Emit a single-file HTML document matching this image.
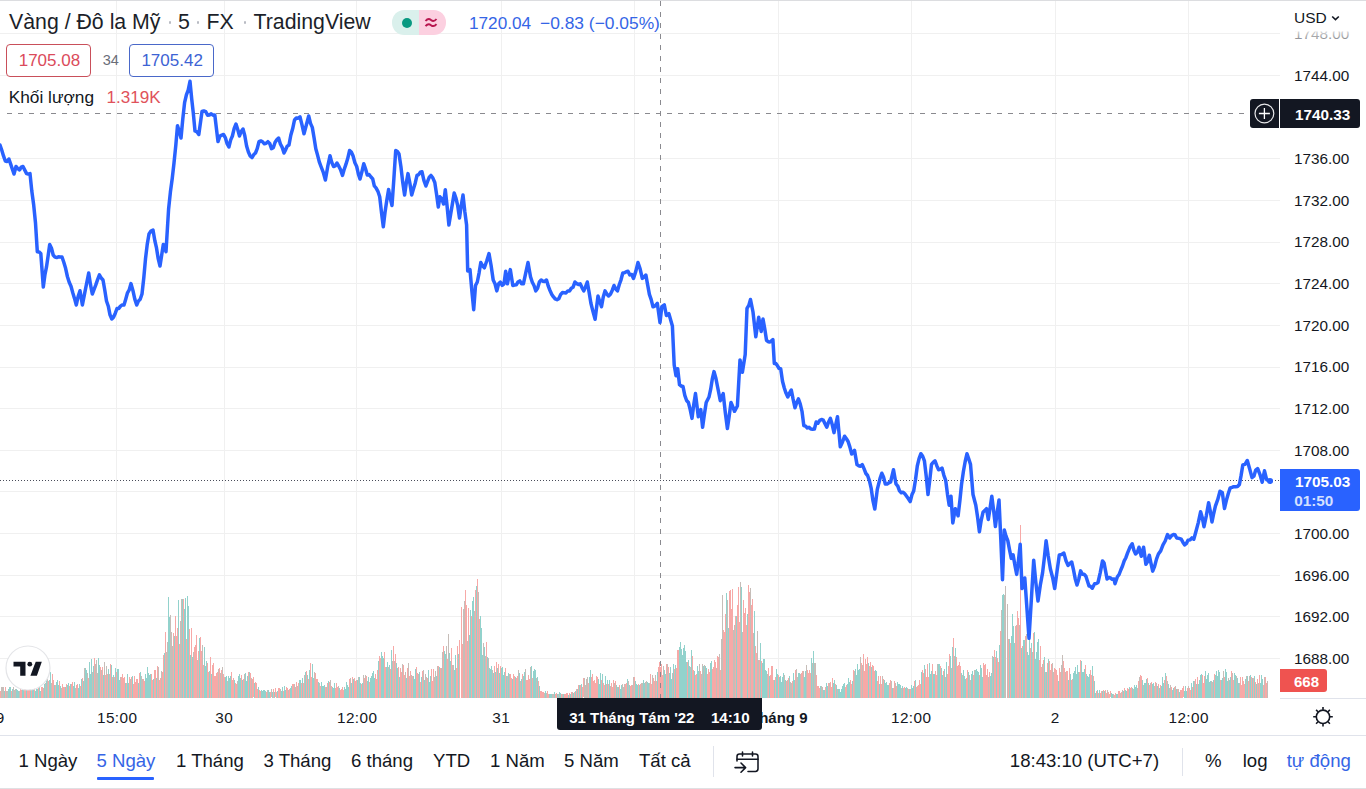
<!DOCTYPE html>
<html><head><meta charset="utf-8">
<style>
*{margin:0;padding:0;box-sizing:border-box}
html,body{width:1366px;height:789px;overflow:hidden;background:#fff;font-family:"Liberation Sans",sans-serif;color:#131722}
.a{position:absolute;white-space:nowrap}
svg{position:absolute;left:0;top:0}
.pl{position:absolute;left:1294px;font-size:15.3px;line-height:15.3px;color:#131722;white-space:nowrap}
.tl{position:absolute;top:710px;width:80px;text-align:center;font-size:15.3px;line-height:15.3px;color:#131722;letter-spacing:0.45px;text-indent:0.45px}
.tb{position:absolute;top:752.2px;font-size:18.6px;line-height:18.6px;color:#131722;white-space:nowrap}
.ttl{font-size:21.3px;line-height:21.3px;top:12.4px;color:#1c1f2a}
.dot{position:absolute;width:2.6px;height:2.6px;border-radius:50%;background:#b8bbc3;top:21.2px}
</style></head><body>
<svg width="1366" height="789" viewBox="0 0 1366 789">
<g stroke="#f0f0f0" stroke-width="1" shape-rendering="crispEdges">
<line x1="0" y1="33.5" x2="1280" y2="33.5"/>
<line x1="0" y1="75.5" x2="1280" y2="75.5"/>
<line x1="0" y1="158.5" x2="1280" y2="158.5"/>
<line x1="0" y1="200.5" x2="1280" y2="200.5"/>
<line x1="0" y1="242.5" x2="1280" y2="242.5"/>
<line x1="0" y1="283.5" x2="1280" y2="283.5"/>
<line x1="0" y1="325.5" x2="1280" y2="325.5"/>
<line x1="0" y1="367.5" x2="1280" y2="367.5"/>
<line x1="0" y1="408.5" x2="1280" y2="408.5"/>
<line x1="0" y1="450.5" x2="1280" y2="450.5"/>
<line x1="0" y1="491.5" x2="1280" y2="491.5"/>
<line x1="0" y1="533.5" x2="1280" y2="533.5"/>
<line x1="0" y1="575.5" x2="1280" y2="575.5"/>
<line x1="0" y1="616.5" x2="1280" y2="616.5"/>
<line x1="0" y1="658.5" x2="1280" y2="658.5"/>
<line x1="116.5" y1="0" x2="116.5" y2="698"/>
<line x1="224.5" y1="0" x2="224.5" y2="698"/>
<line x1="356.5" y1="0" x2="356.5" y2="698"/>
<line x1="501.5" y1="0" x2="501.5" y2="698"/>
<line x1="634.5" y1="0" x2="634.5" y2="698"/>
<line x1="778.5" y1="0" x2="778.5" y2="698"/>
<line x1="911.5" y1="0" x2="911.5" y2="698"/>
<line x1="1055.5" y1="0" x2="1055.5" y2="698"/>
<line x1="1188.5" y1="0" x2="1188.5" y2="698"/>
</g>
<g shape-rendering="crispEdges">
<rect x="0" y="691.0" width="1" height="6.5" fill="#f7a9a7"/>
<rect x="1" y="687.0" width="1" height="10.5" fill="#c6bdb8"/>
<rect x="2" y="687.0" width="1" height="10.5" fill="#c6bdb8"/>
<rect x="3" y="687.0" width="1" height="10.5" fill="#c6bdb8"/>
<rect x="4" y="691.3" width="1" height="6.2" fill="#92d2cc"/>
<rect x="5" y="687.0" width="1" height="10.5" fill="#f7a9a7"/>
<rect x="6" y="691.4" width="1" height="6.1" fill="#c6bdb8"/>
<rect x="7" y="690.7" width="1" height="6.8" fill="#c6bdb8"/>
<rect x="8" y="689.0" width="1" height="8.5" fill="#92d2cc"/>
<rect x="9" y="687.0" width="1" height="10.5" fill="#92d2cc"/>
<rect x="10" y="687.0" width="1" height="10.5" fill="#92d2cc"/>
<rect x="11" y="691.0" width="1" height="6.5" fill="#f7a9a7"/>
<rect x="12" y="689.1" width="1" height="8.4" fill="#92d2cc"/>
<rect x="13" y="687.0" width="1" height="10.5" fill="#c6bdb8"/>
<rect x="14" y="690.0" width="1" height="7.5" fill="#c6bdb8"/>
<rect x="15" y="689.1" width="1" height="8.4" fill="#c6bdb8"/>
<rect x="16" y="688.5" width="1" height="9.0" fill="#92d2cc"/>
<rect x="17" y="689.5" width="1" height="8.0" fill="#92d2cc"/>
<rect x="18" y="690.6" width="1" height="6.9" fill="#92d2cc"/>
<rect x="19" y="690.6" width="1" height="6.9" fill="#c6bdb8"/>
<rect x="20" y="689.4" width="1" height="8.1" fill="#f7a9a7"/>
<rect x="21" y="690.4" width="1" height="7.1" fill="#f7a9a7"/>
<rect x="22" y="687.0" width="1" height="10.5" fill="#92d2cc"/>
<rect x="23" y="690.1" width="1" height="7.4" fill="#92d2cc"/>
<rect x="24" y="687.2" width="1" height="10.3" fill="#f7a9a7"/>
<rect x="25" y="689.0" width="1" height="8.5" fill="#f7a9a7"/>
<rect x="26" y="690.1" width="1" height="7.4" fill="#92d2cc"/>
<rect x="27" y="689.6" width="1" height="7.9" fill="#f7a9a7"/>
<rect x="28" y="689.5" width="1" height="8.0" fill="#f7a9a7"/>
<rect x="29" y="687.0" width="1" height="10.5" fill="#f7a9a7"/>
<rect x="30" y="687.0" width="1" height="10.5" fill="#92d2cc"/>
<rect x="31" y="689.9" width="1" height="7.6" fill="#f7a9a7"/>
<rect x="32" y="687.0" width="1" height="10.5" fill="#92d2cc"/>
<rect x="33" y="688.8" width="1" height="8.7" fill="#92d2cc"/>
<rect x="34" y="687.0" width="1" height="10.5" fill="#f7a9a7"/>
<rect x="35" y="690.6" width="1" height="6.9" fill="#92d2cc"/>
<rect x="36" y="689.4" width="1" height="8.1" fill="#92d2cc"/>
<rect x="37" y="689.1" width="1" height="8.4" fill="#92d2cc"/>
<rect x="38" y="687.6" width="1" height="9.9" fill="#f7a9a7"/>
<rect x="39" y="687.1" width="1" height="10.4" fill="#92d2cc"/>
<rect x="40" y="691.0" width="1" height="6.5" fill="#92d2cc"/>
<rect x="41" y="687.3" width="1" height="10.2" fill="#f7a9a7"/>
<rect x="42" y="686.5" width="1" height="11.0" fill="#f7a9a7"/>
<rect x="43" y="688.3" width="1" height="9.2" fill="#c6bdb8"/>
<rect x="44" y="684.2" width="1" height="13.3" fill="#92d2cc"/>
<rect x="45" y="683.4" width="1" height="14.1" fill="#c6bdb8"/>
<rect x="46" y="680.3" width="1" height="17.2" fill="#92d2cc"/>
<rect x="47" y="678.6" width="1" height="18.9" fill="#c6bdb8"/>
<rect x="48" y="681.1" width="1" height="16.4" fill="#f7a9a7"/>
<rect x="49" y="680.0" width="1" height="17.5" fill="#92d2cc"/>
<rect x="50" y="672.0" width="1" height="25.5" fill="#92d2cc"/>
<rect x="51" y="682.8" width="1" height="14.7" fill="#c6bdb8"/>
<rect x="52" y="674.0" width="1" height="23.5" fill="#f7a9a7"/>
<rect x="53" y="679.7" width="1" height="17.8" fill="#f7a9a7"/>
<rect x="54" y="685.0" width="1" height="12.5" fill="#92d2cc"/>
<rect x="55" y="684.9" width="1" height="12.6" fill="#f7a9a7"/>
<rect x="56" y="681.5" width="1" height="16.0" fill="#92d2cc"/>
<rect x="57" y="680.3" width="1" height="17.2" fill="#92d2cc"/>
<rect x="58" y="685.4" width="1" height="12.1" fill="#92d2cc"/>
<rect x="59" y="681.0" width="1" height="16.5" fill="#f7a9a7"/>
<rect x="60" y="685.6" width="1" height="11.9" fill="#92d2cc"/>
<rect x="61" y="687.5" width="1" height="10.0" fill="#c6bdb8"/>
<rect x="62" y="684.2" width="1" height="13.3" fill="#f7a9a7"/>
<rect x="63" y="686.9" width="1" height="10.6" fill="#f7a9a7"/>
<rect x="64" y="687.2" width="1" height="10.3" fill="#f7a9a7"/>
<rect x="65" y="686.5" width="1" height="11.0" fill="#92d2cc"/>
<rect x="66" y="683.5" width="1" height="14.0" fill="#f7a9a7"/>
<rect x="67" y="684.7" width="1" height="12.8" fill="#92d2cc"/>
<rect x="68" y="683.3" width="1" height="14.2" fill="#92d2cc"/>
<rect x="69" y="685.5" width="1" height="12.0" fill="#f7a9a7"/>
<rect x="70" y="683.5" width="1" height="14.0" fill="#92d2cc"/>
<rect x="71" y="684.1" width="1" height="13.4" fill="#f7a9a7"/>
<rect x="72" y="682.4" width="1" height="15.1" fill="#f7a9a7"/>
<rect x="73" y="686.4" width="1" height="11.1" fill="#92d2cc"/>
<rect x="74" y="682.0" width="1" height="15.5" fill="#92d2cc"/>
<rect x="75" y="687.5" width="1" height="10.0" fill="#c6bdb8"/>
<rect x="76" y="684.7" width="1" height="12.8" fill="#f7a9a7"/>
<rect x="77" y="684.4" width="1" height="13.1" fill="#f7a9a7"/>
<rect x="78" y="688.1" width="1" height="9.4" fill="#92d2cc"/>
<rect x="79" y="683.7" width="1" height="13.8" fill="#92d2cc"/>
<rect x="80" y="685.9" width="1" height="11.6" fill="#f7a9a7"/>
<rect x="81" y="678.5" width="1" height="19.0" fill="#92d2cc"/>
<rect x="82" y="677.6" width="1" height="19.9" fill="#f7a9a7"/>
<rect x="83" y="681.2" width="1" height="16.3" fill="#92d2cc"/>
<rect x="84" y="668.1" width="1" height="29.4" fill="#c6bdb8"/>
<rect x="85" y="667.5" width="1" height="30.0" fill="#92d2cc"/>
<rect x="86" y="669.8" width="1" height="27.7" fill="#92d2cc"/>
<rect x="87" y="672.9" width="1" height="24.6" fill="#c6bdb8"/>
<rect x="88" y="677.5" width="1" height="20.0" fill="#f7a9a7"/>
<rect x="89" y="661.9" width="1" height="35.6" fill="#92d2cc"/>
<rect x="90" y="673.5" width="1" height="24.0" fill="#92d2cc"/>
<rect x="91" y="658.9" width="1" height="38.6" fill="#92d2cc"/>
<rect x="92" y="671.5" width="1" height="26.0" fill="#c6bdb8"/>
<rect x="93" y="666.1" width="1" height="31.4" fill="#92d2cc"/>
<rect x="94" y="658.0" width="1" height="39.5" fill="#f7a9a7"/>
<rect x="95" y="664.0" width="1" height="33.5" fill="#c6bdb8"/>
<rect x="96" y="659.5" width="1" height="38.0" fill="#c6bdb8"/>
<rect x="97" y="673.1" width="1" height="24.4" fill="#c6bdb8"/>
<rect x="98" y="658.0" width="1" height="39.5" fill="#92d2cc"/>
<rect x="99" y="665.0" width="1" height="32.5" fill="#92d2cc"/>
<rect x="100" y="667.4" width="1" height="30.1" fill="#f7a9a7"/>
<rect x="101" y="670.0" width="1" height="27.5" fill="#c6bdb8"/>
<rect x="102" y="667.2" width="1" height="30.3" fill="#f7a9a7"/>
<rect x="103" y="674.8" width="1" height="22.7" fill="#92d2cc"/>
<rect x="104" y="662.0" width="1" height="35.5" fill="#c6bdb8"/>
<rect x="105" y="675.3" width="1" height="22.2" fill="#f7a9a7"/>
<rect x="106" y="665.7" width="1" height="31.8" fill="#c6bdb8"/>
<rect x="107" y="673.5" width="1" height="24.0" fill="#f7a9a7"/>
<rect x="108" y="668.7" width="1" height="28.8" fill="#92d2cc"/>
<rect x="109" y="674.0" width="1" height="23.5" fill="#c6bdb8"/>
<rect x="110" y="663.9" width="1" height="33.6" fill="#f7a9a7"/>
<rect x="111" y="665.3" width="1" height="32.2" fill="#92d2cc"/>
<rect x="112" y="677.2" width="1" height="20.3" fill="#f7a9a7"/>
<rect x="113" y="675.0" width="1" height="22.5" fill="#92d2cc"/>
<rect x="114" y="676.9" width="1" height="20.6" fill="#f7a9a7"/>
<rect x="115" y="667.7" width="1" height="29.8" fill="#92d2cc"/>
<rect x="116" y="671.8" width="1" height="25.7" fill="#f7a9a7"/>
<rect x="117" y="669.1" width="1" height="28.4" fill="#92d2cc"/>
<rect x="118" y="668.8" width="1" height="28.7" fill="#92d2cc"/>
<rect x="119" y="679.6" width="1" height="17.9" fill="#92d2cc"/>
<rect x="120" y="676.7" width="1" height="20.8" fill="#c6bdb8"/>
<rect x="121" y="677.2" width="1" height="20.3" fill="#f7a9a7"/>
<rect x="122" y="673.9" width="1" height="23.6" fill="#f7a9a7"/>
<rect x="123" y="677.5" width="1" height="20.0" fill="#f7a9a7"/>
<rect x="124" y="677.1" width="1" height="20.4" fill="#f7a9a7"/>
<rect x="125" y="682.7" width="1" height="14.8" fill="#92d2cc"/>
<rect x="126" y="682.6" width="1" height="14.9" fill="#f7a9a7"/>
<rect x="127" y="674.0" width="1" height="23.5" fill="#92d2cc"/>
<rect x="128" y="682.9" width="1" height="14.6" fill="#92d2cc"/>
<rect x="129" y="677.4" width="1" height="20.1" fill="#f7a9a7"/>
<rect x="130" y="679.3" width="1" height="18.2" fill="#c6bdb8"/>
<rect x="131" y="677.4" width="1" height="20.1" fill="#f7a9a7"/>
<rect x="132" y="676.1" width="1" height="21.4" fill="#92d2cc"/>
<rect x="133" y="683.7" width="1" height="13.8" fill="#f7a9a7"/>
<rect x="134" y="675.6" width="1" height="21.9" fill="#f7a9a7"/>
<rect x="135" y="681.7" width="1" height="15.8" fill="#f7a9a7"/>
<rect x="136" y="679.0" width="1" height="18.5" fill="#f7a9a7"/>
<rect x="137" y="679.2" width="1" height="18.3" fill="#f7a9a7"/>
<rect x="138" y="683.3" width="1" height="14.2" fill="#92d2cc"/>
<rect x="139" y="672.6" width="1" height="24.9" fill="#f7a9a7"/>
<rect x="140" y="672.0" width="1" height="25.5" fill="#92d2cc"/>
<rect x="141" y="675.6" width="1" height="21.9" fill="#c6bdb8"/>
<rect x="142" y="679.1" width="1" height="18.4" fill="#c6bdb8"/>
<rect x="143" y="678.9" width="1" height="18.6" fill="#f7a9a7"/>
<rect x="144" y="681.4" width="1" height="16.1" fill="#f7a9a7"/>
<rect x="145" y="674.2" width="1" height="23.3" fill="#92d2cc"/>
<rect x="146" y="677.7" width="1" height="19.8" fill="#92d2cc"/>
<rect x="147" y="666.8" width="1" height="30.7" fill="#92d2cc"/>
<rect x="148" y="672.5" width="1" height="25.0" fill="#92d2cc"/>
<rect x="149" y="675.4" width="1" height="22.1" fill="#92d2cc"/>
<rect x="150" y="674.3" width="1" height="23.2" fill="#92d2cc"/>
<rect x="151" y="674.4" width="1" height="23.1" fill="#f7a9a7"/>
<rect x="152" y="679.5" width="1" height="18.0" fill="#f7a9a7"/>
<rect x="153" y="679.0" width="1" height="18.5" fill="#92d2cc"/>
<rect x="154" y="670.3" width="1" height="27.2" fill="#f7a9a7"/>
<rect x="155" y="670.2" width="1" height="27.3" fill="#f7a9a7"/>
<rect x="156" y="678.0" width="1" height="19.5" fill="#92d2cc"/>
<rect x="157" y="666.3" width="1" height="31.2" fill="#f7a9a7"/>
<rect x="158" y="666.9" width="1" height="30.6" fill="#c6bdb8"/>
<rect x="159" y="680.1" width="1" height="17.4" fill="#f7a9a7"/>
<rect x="160" y="678.2" width="1" height="19.3" fill="#f7a9a7"/>
<rect x="161" y="671.1" width="1" height="26.4" fill="#c6bdb8"/>
<rect x="162" y="671.8" width="1" height="25.7" fill="#f7a9a7"/>
<rect x="163" y="654.6" width="1" height="42.9" fill="#f7a9a7"/>
<rect x="164" y="653.2" width="1" height="44.3" fill="#92d2cc"/>
<rect x="165" y="631.6" width="1" height="65.9" fill="#f7a9a7"/>
<rect x="166" y="652.0" width="1" height="45.5" fill="#c6bdb8"/>
<rect x="167" y="642.3" width="1" height="55.2" fill="#c6bdb8"/>
<rect x="168" y="597.0" width="1" height="100.5" fill="#92d2cc"/>
<rect x="169" y="617.1" width="1" height="80.4" fill="#92d2cc"/>
<rect x="170" y="614.5" width="1" height="83.0" fill="#c6bdb8"/>
<rect x="171" y="632.1" width="1" height="65.4" fill="#c6bdb8"/>
<rect x="172" y="646.0" width="1" height="51.5" fill="#c6bdb8"/>
<rect x="173" y="632.6" width="1" height="64.9" fill="#f7a9a7"/>
<rect x="174" y="635.6" width="1" height="61.9" fill="#92d2cc"/>
<rect x="175" y="616.0" width="1" height="81.5" fill="#f7a9a7"/>
<rect x="176" y="635.6" width="1" height="61.9" fill="#f7a9a7"/>
<rect x="177" y="628.1" width="1" height="69.4" fill="#f7a9a7"/>
<rect x="178" y="600.0" width="1" height="97.5" fill="#92d2cc"/>
<rect x="179" y="643.6" width="1" height="53.9" fill="#f7a9a7"/>
<rect x="180" y="621.4" width="1" height="76.1" fill="#c6bdb8"/>
<rect x="181" y="599.2" width="1" height="98.3" fill="#c6bdb8"/>
<rect x="182" y="598.9" width="1" height="98.6" fill="#92d2cc"/>
<rect x="183" y="598.6" width="1" height="98.9" fill="#f7a9a7"/>
<rect x="184" y="608.9" width="1" height="88.6" fill="#92d2cc"/>
<rect x="185" y="598.4" width="1" height="99.1" fill="#92d2cc"/>
<rect x="186" y="638.5" width="1" height="59.0" fill="#f7a9a7"/>
<rect x="187" y="596.0" width="1" height="101.5" fill="#92d2cc"/>
<rect x="188" y="606.3" width="1" height="91.2" fill="#92d2cc"/>
<rect x="189" y="629.3" width="1" height="68.2" fill="#f7a9a7"/>
<rect x="190" y="654.5" width="1" height="43.0" fill="#92d2cc"/>
<rect x="191" y="628.0" width="1" height="69.5" fill="#f7a9a7"/>
<rect x="192" y="656.8" width="1" height="40.7" fill="#92d2cc"/>
<rect x="193" y="651.5" width="1" height="46.0" fill="#c6bdb8"/>
<rect x="194" y="647.0" width="1" height="50.5" fill="#f7a9a7"/>
<rect x="195" y="645.3" width="1" height="52.2" fill="#f7a9a7"/>
<rect x="196" y="634.9" width="1" height="62.6" fill="#f7a9a7"/>
<rect x="197" y="660.4" width="1" height="37.1" fill="#c6bdb8"/>
<rect x="198" y="650.5" width="1" height="47.0" fill="#f7a9a7"/>
<rect x="199" y="638.3" width="1" height="59.2" fill="#92d2cc"/>
<rect x="200" y="637.0" width="1" height="60.5" fill="#f7a9a7"/>
<rect x="201" y="651.4" width="1" height="46.1" fill="#f7a9a7"/>
<rect x="202" y="645.3" width="1" height="52.2" fill="#c6bdb8"/>
<rect x="203" y="664.5" width="1" height="33.0" fill="#f7a9a7"/>
<rect x="204" y="646.9" width="1" height="50.6" fill="#92d2cc"/>
<rect x="205" y="665.7" width="1" height="31.8" fill="#92d2cc"/>
<rect x="206" y="661.4" width="1" height="36.1" fill="#92d2cc"/>
<rect x="207" y="663.4" width="1" height="34.1" fill="#f7a9a7"/>
<rect x="208" y="672.4" width="1" height="25.1" fill="#f7a9a7"/>
<rect x="209" y="670.9" width="1" height="26.6" fill="#92d2cc"/>
<rect x="210" y="656.7" width="1" height="40.8" fill="#f7a9a7"/>
<rect x="211" y="673.6" width="1" height="23.9" fill="#92d2cc"/>
<rect x="212" y="665.1" width="1" height="32.4" fill="#f7a9a7"/>
<rect x="213" y="663.4" width="1" height="34.1" fill="#f7a9a7"/>
<rect x="214" y="676.3" width="1" height="21.2" fill="#f7a9a7"/>
<rect x="215" y="675.6" width="1" height="21.9" fill="#f7a9a7"/>
<rect x="216" y="673.3" width="1" height="24.2" fill="#f7a9a7"/>
<rect x="217" y="671.9" width="1" height="25.6" fill="#f7a9a7"/>
<rect x="218" y="669.1" width="1" height="28.4" fill="#c6bdb8"/>
<rect x="219" y="668.2" width="1" height="29.3" fill="#f7a9a7"/>
<rect x="220" y="673.2" width="1" height="24.3" fill="#c6bdb8"/>
<rect x="221" y="670.2" width="1" height="27.3" fill="#f7a9a7"/>
<rect x="222" y="666.8" width="1" height="30.7" fill="#c6bdb8"/>
<rect x="223" y="673.5" width="1" height="24.0" fill="#f7a9a7"/>
<rect x="224" y="676.9" width="1" height="20.6" fill="#f7a9a7"/>
<rect x="225" y="677.4" width="1" height="20.1" fill="#92d2cc"/>
<rect x="226" y="675.9" width="1" height="21.6" fill="#92d2cc"/>
<rect x="227" y="680.6" width="1" height="16.9" fill="#c6bdb8"/>
<rect x="228" y="675.6" width="1" height="21.9" fill="#92d2cc"/>
<rect x="229" y="678.3" width="1" height="19.2" fill="#92d2cc"/>
<rect x="230" y="676.2" width="1" height="21.3" fill="#92d2cc"/>
<rect x="231" y="671.5" width="1" height="26.0" fill="#f7a9a7"/>
<rect x="232" y="680.0" width="1" height="17.5" fill="#f7a9a7"/>
<rect x="233" y="677.7" width="1" height="19.8" fill="#f7a9a7"/>
<rect x="234" y="680.0" width="1" height="17.5" fill="#92d2cc"/>
<rect x="235" y="682.7" width="1" height="14.8" fill="#f7a9a7"/>
<rect x="236" y="684.1" width="1" height="13.4" fill="#f7a9a7"/>
<rect x="237" y="680.9" width="1" height="16.6" fill="#c6bdb8"/>
<rect x="238" y="676.2" width="1" height="21.3" fill="#92d2cc"/>
<rect x="239" y="673.8" width="1" height="23.7" fill="#92d2cc"/>
<rect x="240" y="677.5" width="1" height="20.0" fill="#92d2cc"/>
<rect x="241" y="675.1" width="1" height="22.4" fill="#f7a9a7"/>
<rect x="242" y="679.6" width="1" height="17.9" fill="#92d2cc"/>
<rect x="243" y="678.8" width="1" height="18.7" fill="#f7a9a7"/>
<rect x="244" y="673.8" width="1" height="23.7" fill="#c6bdb8"/>
<rect x="245" y="673.1" width="1" height="24.4" fill="#92d2cc"/>
<rect x="246" y="681.3" width="1" height="16.2" fill="#92d2cc"/>
<rect x="247" y="676.1" width="1" height="21.4" fill="#92d2cc"/>
<rect x="248" y="672.3" width="1" height="25.2" fill="#f7a9a7"/>
<rect x="249" y="672.2" width="1" height="25.3" fill="#92d2cc"/>
<rect x="250" y="672.9" width="1" height="24.6" fill="#f7a9a7"/>
<rect x="251" y="677.7" width="1" height="19.8" fill="#c6bdb8"/>
<rect x="252" y="678.5" width="1" height="19.0" fill="#f7a9a7"/>
<rect x="253" y="677.2" width="1" height="20.2" fill="#f7a9a7"/>
<rect x="254" y="682.5" width="1" height="15.0" fill="#92d2cc"/>
<rect x="255" y="682.3" width="1" height="15.2" fill="#f7a9a7"/>
<rect x="256" y="682.5" width="1" height="15.0" fill="#f7a9a7"/>
<rect x="257" y="688.6" width="1" height="8.9" fill="#f7a9a7"/>
<rect x="258" y="686.6" width="1" height="10.9" fill="#92d2cc"/>
<rect x="259" y="689.7" width="1" height="7.8" fill="#f7a9a7"/>
<rect x="260" y="690.6" width="1" height="6.9" fill="#f7a9a7"/>
<rect x="261" y="689.5" width="1" height="8.0" fill="#92d2cc"/>
<rect x="262" y="690.7" width="1" height="6.8" fill="#92d2cc"/>
<rect x="263" y="689.5" width="1" height="8.0" fill="#92d2cc"/>
<rect x="264" y="689.8" width="1" height="7.7" fill="#92d2cc"/>
<rect x="265" y="690.6" width="1" height="6.9" fill="#92d2cc"/>
<rect x="266" y="691.7" width="1" height="5.8" fill="#f7a9a7"/>
<rect x="267" y="690.4" width="1" height="7.1" fill="#c6bdb8"/>
<rect x="268" y="689.5" width="1" height="8.0" fill="#92d2cc"/>
<rect x="269" y="692.0" width="1" height="5.5" fill="#92d2cc"/>
<rect x="270" y="692.3" width="1" height="5.2" fill="#f7a9a7"/>
<rect x="271" y="689.2" width="1" height="8.2" fill="#c6bdb8"/>
<rect x="272" y="692.1" width="1" height="5.4" fill="#92d2cc"/>
<rect x="273" y="689.1" width="1" height="8.4" fill="#f7a9a7"/>
<rect x="274" y="692.0" width="1" height="5.5" fill="#92d2cc"/>
<rect x="275" y="688.2" width="1" height="9.2" fill="#f7a9a7"/>
<rect x="276" y="691.7" width="1" height="5.8" fill="#f7a9a7"/>
<rect x="277" y="691.3" width="1" height="6.2" fill="#92d2cc"/>
<rect x="278" y="688.0" width="1" height="9.5" fill="#f7a9a7"/>
<rect x="279" y="687.6" width="1" height="9.9" fill="#f7a9a7"/>
<rect x="280" y="688.6" width="1" height="8.9" fill="#c6bdb8"/>
<rect x="281" y="691.4" width="1" height="6.1" fill="#92d2cc"/>
<rect x="282" y="686.6" width="1" height="10.9" fill="#92d2cc"/>
<rect x="283" y="691.3" width="1" height="6.2" fill="#f7a9a7"/>
<rect x="284" y="686.0" width="1" height="11.5" fill="#92d2cc"/>
<rect x="285" y="690.4" width="1" height="7.1" fill="#92d2cc"/>
<rect x="286" y="686.7" width="1" height="10.8" fill="#f7a9a7"/>
<rect x="287" y="688.4" width="1" height="9.1" fill="#f7a9a7"/>
<rect x="288" y="689.5" width="1" height="8.0" fill="#c6bdb8"/>
<rect x="289" y="689.4" width="1" height="8.1" fill="#f7a9a7"/>
<rect x="290" y="687.6" width="1" height="9.9" fill="#92d2cc"/>
<rect x="291" y="686.3" width="1" height="11.2" fill="#92d2cc"/>
<rect x="292" y="683.5" width="1" height="14.0" fill="#f7a9a7"/>
<rect x="293" y="684.3" width="1" height="13.2" fill="#f7a9a7"/>
<rect x="294" y="684.2" width="1" height="13.3" fill="#c6bdb8"/>
<rect x="295" y="687.1" width="1" height="10.4" fill="#c6bdb8"/>
<rect x="296" y="681.5" width="1" height="16.0" fill="#f7a9a7"/>
<rect x="297" y="686.2" width="1" height="11.3" fill="#c6bdb8"/>
<rect x="298" y="683.3" width="1" height="14.2" fill="#f7a9a7"/>
<rect x="299" y="680.0" width="1" height="17.5" fill="#92d2cc"/>
<rect x="300" y="679.5" width="1" height="18.0" fill="#92d2cc"/>
<rect x="301" y="683.1" width="1" height="14.4" fill="#f7a9a7"/>
<rect x="302" y="677.6" width="1" height="19.9" fill="#92d2cc"/>
<rect x="303" y="682.6" width="1" height="14.9" fill="#f7a9a7"/>
<rect x="304" y="674.7" width="1" height="22.8" fill="#c6bdb8"/>
<rect x="305" y="672.0" width="1" height="25.5" fill="#92d2cc"/>
<rect x="306" y="671.3" width="1" height="26.2" fill="#f7a9a7"/>
<rect x="307" y="675.0" width="1" height="22.5" fill="#92d2cc"/>
<rect x="308" y="678.5" width="1" height="19.0" fill="#f7a9a7"/>
<rect x="309" y="670.0" width="1" height="27.5" fill="#92d2cc"/>
<rect x="310" y="662.9" width="1" height="34.6" fill="#f7a9a7"/>
<rect x="311" y="677.0" width="1" height="20.5" fill="#f7a9a7"/>
<rect x="312" y="664.4" width="1" height="33.1" fill="#92d2cc"/>
<rect x="313" y="678.2" width="1" height="19.3" fill="#92d2cc"/>
<rect x="314" y="671.8" width="1" height="25.7" fill="#c6bdb8"/>
<rect x="315" y="673.3" width="1" height="24.2" fill="#f7a9a7"/>
<rect x="316" y="679.1" width="1" height="18.4" fill="#f7a9a7"/>
<rect x="317" y="679.3" width="1" height="18.2" fill="#f7a9a7"/>
<rect x="318" y="681.8" width="1" height="15.7" fill="#92d2cc"/>
<rect x="319" y="682.5" width="1" height="15.0" fill="#c6bdb8"/>
<rect x="320" y="685.6" width="1" height="11.9" fill="#f7a9a7"/>
<rect x="321" y="681.8" width="1" height="15.7" fill="#92d2cc"/>
<rect x="322" y="685.7" width="1" height="11.8" fill="#92d2cc"/>
<rect x="323" y="685.9" width="1" height="11.6" fill="#92d2cc"/>
<rect x="324" y="685.0" width="1" height="12.5" fill="#92d2cc"/>
<rect x="325" y="686.8" width="1" height="10.7" fill="#f7a9a7"/>
<rect x="326" y="686.9" width="1" height="10.6" fill="#c6bdb8"/>
<rect x="327" y="682.7" width="1" height="14.8" fill="#f7a9a7"/>
<rect x="328" y="680.7" width="1" height="16.8" fill="#92d2cc"/>
<rect x="329" y="681.8" width="1" height="15.7" fill="#f7a9a7"/>
<rect x="330" y="680.3" width="1" height="17.2" fill="#c6bdb8"/>
<rect x="331" y="685.6" width="1" height="11.9" fill="#f7a9a7"/>
<rect x="332" y="687.4" width="1" height="10.1" fill="#92d2cc"/>
<rect x="333" y="688.3" width="1" height="9.2" fill="#92d2cc"/>
<rect x="334" y="683.0" width="1" height="14.5" fill="#92d2cc"/>
<rect x="335" y="687.7" width="1" height="9.8" fill="#f7a9a7"/>
<rect x="336" y="683.0" width="1" height="14.5" fill="#f7a9a7"/>
<rect x="337" y="686.7" width="1" height="10.8" fill="#f7a9a7"/>
<rect x="338" y="686.1" width="1" height="11.4" fill="#c6bdb8"/>
<rect x="339" y="688.4" width="1" height="9.1" fill="#92d2cc"/>
<rect x="340" y="690.4" width="1" height="7.1" fill="#f7a9a7"/>
<rect x="341" y="689.0" width="1" height="8.5" fill="#f7a9a7"/>
<rect x="342" y="687.4" width="1" height="10.1" fill="#f7a9a7"/>
<rect x="343" y="690.0" width="1" height="7.5" fill="#f7a9a7"/>
<rect x="344" y="687.0" width="1" height="10.5" fill="#92d2cc"/>
<rect x="345" y="688.9" width="1" height="8.6" fill="#92d2cc"/>
<rect x="346" y="682.3" width="1" height="15.2" fill="#92d2cc"/>
<rect x="347" y="685.0" width="1" height="12.5" fill="#92d2cc"/>
<rect x="348" y="686.9" width="1" height="10.6" fill="#92d2cc"/>
<rect x="349" y="678.8" width="1" height="18.7" fill="#f7a9a7"/>
<rect x="350" y="677.7" width="1" height="19.8" fill="#c6bdb8"/>
<rect x="351" y="682.9" width="1" height="14.6" fill="#92d2cc"/>
<rect x="352" y="677.4" width="1" height="20.1" fill="#f7a9a7"/>
<rect x="353" y="678.8" width="1" height="18.7" fill="#92d2cc"/>
<rect x="354" y="677.9" width="1" height="19.6" fill="#f7a9a7"/>
<rect x="355" y="681.1" width="1" height="16.4" fill="#f7a9a7"/>
<rect x="356" y="679.5" width="1" height="18.0" fill="#f7a9a7"/>
<rect x="357" y="679.5" width="1" height="18.0" fill="#92d2cc"/>
<rect x="358" y="677.1" width="1" height="20.4" fill="#c6bdb8"/>
<rect x="359" y="677.0" width="1" height="20.5" fill="#92d2cc"/>
<rect x="360" y="683.1" width="1" height="14.4" fill="#92d2cc"/>
<rect x="361" y="683.6" width="1" height="13.9" fill="#f7a9a7"/>
<rect x="362" y="682.6" width="1" height="14.9" fill="#92d2cc"/>
<rect x="363" y="674.8" width="1" height="22.7" fill="#c6bdb8"/>
<rect x="364" y="678.0" width="1" height="19.5" fill="#f7a9a7"/>
<rect x="365" y="674.5" width="1" height="23.0" fill="#c6bdb8"/>
<rect x="366" y="675.6" width="1" height="21.9" fill="#f7a9a7"/>
<rect x="367" y="681.0" width="1" height="16.5" fill="#92d2cc"/>
<rect x="368" y="676.8" width="1" height="20.7" fill="#92d2cc"/>
<rect x="369" y="681.7" width="1" height="15.8" fill="#f7a9a7"/>
<rect x="370" y="677.9" width="1" height="19.6" fill="#92d2cc"/>
<rect x="371" y="676.0" width="1" height="21.5" fill="#92d2cc"/>
<rect x="372" y="673.3" width="1" height="24.2" fill="#92d2cc"/>
<rect x="373" y="670.5" width="1" height="27.0" fill="#92d2cc"/>
<rect x="374" y="677.9" width="1" height="19.6" fill="#92d2cc"/>
<rect x="375" y="673.8" width="1" height="23.7" fill="#f7a9a7"/>
<rect x="376" y="679.0" width="1" height="18.5" fill="#f7a9a7"/>
<rect x="377" y="670.2" width="1" height="27.3" fill="#f7a9a7"/>
<rect x="378" y="660.8" width="1" height="36.7" fill="#92d2cc"/>
<rect x="379" y="655.5" width="1" height="42.0" fill="#f7a9a7"/>
<rect x="380" y="657.5" width="1" height="40.0" fill="#f7a9a7"/>
<rect x="381" y="652.4" width="1" height="45.1" fill="#92d2cc"/>
<rect x="382" y="655.9" width="1" height="41.6" fill="#92d2cc"/>
<rect x="383" y="657.7" width="1" height="39.8" fill="#92d2cc"/>
<rect x="384" y="652.0" width="1" height="45.5" fill="#f7a9a7"/>
<rect x="385" y="667.3" width="1" height="30.2" fill="#f7a9a7"/>
<rect x="386" y="666.8" width="1" height="30.7" fill="#92d2cc"/>
<rect x="387" y="662.2" width="1" height="35.3" fill="#92d2cc"/>
<rect x="388" y="667.1" width="1" height="30.4" fill="#c6bdb8"/>
<rect x="389" y="664.9" width="1" height="32.6" fill="#92d2cc"/>
<rect x="390" y="669.2" width="1" height="28.3" fill="#f7a9a7"/>
<rect x="391" y="650.0" width="1" height="47.5" fill="#92d2cc"/>
<rect x="392" y="661.3" width="1" height="36.2" fill="#c6bdb8"/>
<rect x="393" y="646.0" width="1" height="51.5" fill="#f7a9a7"/>
<rect x="394" y="660.7" width="1" height="36.8" fill="#c6bdb8"/>
<rect x="395" y="653.8" width="1" height="43.7" fill="#f7a9a7"/>
<rect x="396" y="663.1" width="1" height="34.4" fill="#92d2cc"/>
<rect x="397" y="668.2" width="1" height="29.3" fill="#92d2cc"/>
<rect x="398" y="666.6" width="1" height="30.9" fill="#f7a9a7"/>
<rect x="399" y="676.6" width="1" height="20.9" fill="#92d2cc"/>
<rect x="400" y="668.4" width="1" height="29.1" fill="#f7a9a7"/>
<rect x="401" y="671.6" width="1" height="25.9" fill="#f7a9a7"/>
<rect x="402" y="664.3" width="1" height="33.2" fill="#c6bdb8"/>
<rect x="403" y="665.4" width="1" height="32.1" fill="#f7a9a7"/>
<rect x="404" y="675.4" width="1" height="22.1" fill="#f7a9a7"/>
<rect x="405" y="672.0" width="1" height="25.5" fill="#c6bdb8"/>
<rect x="406" y="677.8" width="1" height="19.7" fill="#92d2cc"/>
<rect x="407" y="668.2" width="1" height="29.3" fill="#f7a9a7"/>
<rect x="408" y="662.5" width="1" height="35.0" fill="#c6bdb8"/>
<rect x="409" y="676.4" width="1" height="21.1" fill="#f7a9a7"/>
<rect x="410" y="671.4" width="1" height="26.1" fill="#f7a9a7"/>
<rect x="411" y="675.2" width="1" height="22.3" fill="#c6bdb8"/>
<rect x="412" y="676.4" width="1" height="21.1" fill="#f7a9a7"/>
<rect x="413" y="675.6" width="1" height="21.9" fill="#92d2cc"/>
<rect x="414" y="678.7" width="1" height="18.8" fill="#92d2cc"/>
<rect x="415" y="668.9" width="1" height="28.6" fill="#92d2cc"/>
<rect x="416" y="667.0" width="1" height="30.5" fill="#f7a9a7"/>
<rect x="417" y="673.2" width="1" height="24.3" fill="#f7a9a7"/>
<rect x="418" y="673.6" width="1" height="23.9" fill="#c6bdb8"/>
<rect x="419" y="672.2" width="1" height="25.3" fill="#92d2cc"/>
<rect x="420" y="682.1" width="1" height="15.4" fill="#f7a9a7"/>
<rect x="421" y="677.0" width="1" height="20.5" fill="#92d2cc"/>
<rect x="422" y="670.6" width="1" height="26.9" fill="#f7a9a7"/>
<rect x="423" y="669.5" width="1" height="28.0" fill="#c6bdb8"/>
<rect x="424" y="679.6" width="1" height="17.9" fill="#92d2cc"/>
<rect x="425" y="674.4" width="1" height="23.1" fill="#c6bdb8"/>
<rect x="426" y="676.9" width="1" height="20.6" fill="#c6bdb8"/>
<rect x="427" y="678.2" width="1" height="19.3" fill="#f7a9a7"/>
<rect x="428" y="669.6" width="1" height="27.9" fill="#92d2cc"/>
<rect x="429" y="682.0" width="1" height="15.5" fill="#92d2cc"/>
<rect x="430" y="676.2" width="1" height="21.3" fill="#92d2cc"/>
<rect x="431" y="669.1" width="1" height="28.4" fill="#f7a9a7"/>
<rect x="432" y="681.1" width="1" height="16.4" fill="#f7a9a7"/>
<rect x="433" y="669.0" width="1" height="28.5" fill="#f7a9a7"/>
<rect x="434" y="677.4" width="1" height="20.1" fill="#c6bdb8"/>
<rect x="435" y="671.4" width="1" height="26.1" fill="#c6bdb8"/>
<rect x="436" y="676.4" width="1" height="21.1" fill="#92d2cc"/>
<rect x="437" y="666.1" width="1" height="31.4" fill="#c6bdb8"/>
<rect x="438" y="665.6" width="1" height="31.9" fill="#f7a9a7"/>
<rect x="439" y="667.4" width="1" height="30.1" fill="#92d2cc"/>
<rect x="440" y="668.4" width="1" height="29.1" fill="#f7a9a7"/>
<rect x="441" y="668.2" width="1" height="29.3" fill="#c6bdb8"/>
<rect x="442" y="651.6" width="1" height="45.9" fill="#c6bdb8"/>
<rect x="443" y="646.2" width="1" height="51.3" fill="#f7a9a7"/>
<rect x="444" y="650.6" width="1" height="46.9" fill="#92d2cc"/>
<rect x="445" y="654.1" width="1" height="43.4" fill="#92d2cc"/>
<rect x="446" y="646.1" width="1" height="51.4" fill="#c6bdb8"/>
<rect x="447" y="658.5" width="1" height="39.0" fill="#f7a9a7"/>
<rect x="448" y="633.9" width="1" height="63.6" fill="#c6bdb8"/>
<rect x="449" y="652.5" width="1" height="45.0" fill="#92d2cc"/>
<rect x="450" y="661.4" width="1" height="36.1" fill="#92d2cc"/>
<rect x="451" y="647.6" width="1" height="49.9" fill="#f7a9a7"/>
<rect x="452" y="665.3" width="1" height="32.2" fill="#c6bdb8"/>
<rect x="453" y="664.7" width="1" height="32.8" fill="#c6bdb8"/>
<rect x="454" y="670.2" width="1" height="27.3" fill="#92d2cc"/>
<rect x="455" y="654.6" width="1" height="42.9" fill="#92d2cc"/>
<rect x="456" y="667.8" width="1" height="29.7" fill="#f7a9a7"/>
<rect x="457" y="645.6" width="1" height="51.9" fill="#f7a9a7"/>
<rect x="458" y="653.7" width="1" height="43.8" fill="#92d2cc"/>
<rect x="459" y="640.3" width="1" height="57.2" fill="#f7a9a7"/>
<rect x="461" y="607.3" width="1" height="90.2" fill="#f7a9a7"/>
<rect x="462" y="643.5" width="1" height="54.0" fill="#f7a9a7"/>
<rect x="463" y="608.9" width="1" height="88.6" fill="#c6bdb8"/>
<rect x="464" y="601.2" width="1" height="96.3" fill="#c6bdb8"/>
<rect x="465" y="590.0" width="1" height="107.5" fill="#f7a9a7"/>
<rect x="466" y="604.6" width="1" height="92.9" fill="#f7a9a7"/>
<rect x="467" y="640.6" width="1" height="56.9" fill="#c6bdb8"/>
<rect x="468" y="607.9" width="1" height="89.6" fill="#f7a9a7"/>
<rect x="469" y="635.4" width="1" height="62.1" fill="#92d2cc"/>
<rect x="470" y="610.0" width="1" height="87.5" fill="#92d2cc"/>
<rect x="471" y="615.9" width="1" height="81.6" fill="#f7a9a7"/>
<rect x="472" y="601.1" width="1" height="96.4" fill="#92d2cc"/>
<rect x="473" y="596.6" width="1" height="100.9" fill="#92d2cc"/>
<rect x="474" y="611.4" width="1" height="86.1" fill="#c6bdb8"/>
<rect x="475" y="590.4" width="1" height="107.1" fill="#f7a9a7"/>
<rect x="476" y="586.3" width="1" height="111.2" fill="#92d2cc"/>
<rect x="477" y="578.7" width="1" height="118.8" fill="#f7a9a7"/>
<rect x="478" y="591.6" width="1" height="105.9" fill="#c6bdb8"/>
<rect x="479" y="619.3" width="1" height="78.2" fill="#f7a9a7"/>
<rect x="480" y="616.0" width="1" height="81.5" fill="#92d2cc"/>
<rect x="481" y="627.8" width="1" height="69.7" fill="#92d2cc"/>
<rect x="482" y="654.8" width="1" height="42.7" fill="#92d2cc"/>
<rect x="483" y="643.1" width="1" height="54.4" fill="#c6bdb8"/>
<rect x="484" y="646.7" width="1" height="50.8" fill="#92d2cc"/>
<rect x="485" y="656.3" width="1" height="41.2" fill="#c6bdb8"/>
<rect x="486" y="641.7" width="1" height="55.8" fill="#f7a9a7"/>
<rect x="487" y="657.2" width="1" height="40.3" fill="#92d2cc"/>
<rect x="488" y="657.7" width="1" height="39.8" fill="#c6bdb8"/>
<rect x="489" y="667.5" width="1" height="30.0" fill="#92d2cc"/>
<rect x="490" y="668.9" width="1" height="28.6" fill="#92d2cc"/>
<rect x="491" y="665.8" width="1" height="31.7" fill="#92d2cc"/>
<rect x="492" y="670.2" width="1" height="27.3" fill="#c6bdb8"/>
<rect x="493" y="673.0" width="1" height="24.5" fill="#92d2cc"/>
<rect x="494" y="665.9" width="1" height="31.6" fill="#f7a9a7"/>
<rect x="495" y="671.5" width="1" height="26.0" fill="#92d2cc"/>
<rect x="496" y="662.1" width="1" height="35.4" fill="#f7a9a7"/>
<rect x="497" y="667.8" width="1" height="29.7" fill="#92d2cc"/>
<rect x="498" y="663.8" width="1" height="33.7" fill="#f7a9a7"/>
<rect x="499" y="673.0" width="1" height="24.5" fill="#92d2cc"/>
<rect x="500" y="665.8" width="1" height="31.7" fill="#f7a9a7"/>
<rect x="501" y="667.8" width="1" height="29.7" fill="#92d2cc"/>
<rect x="502" y="666.5" width="1" height="31.0" fill="#92d2cc"/>
<rect x="503" y="674.7" width="1" height="22.8" fill="#92d2cc"/>
<rect x="504" y="672.3" width="1" height="25.2" fill="#92d2cc"/>
<rect x="505" y="667.6" width="1" height="29.9" fill="#f7a9a7"/>
<rect x="506" y="675.9" width="1" height="21.6" fill="#92d2cc"/>
<rect x="507" y="675.9" width="1" height="21.6" fill="#c6bdb8"/>
<rect x="508" y="673.3" width="1" height="24.2" fill="#92d2cc"/>
<rect x="509" y="673.6" width="1" height="23.9" fill="#c6bdb8"/>
<rect x="510" y="673.5" width="1" height="24.0" fill="#f7a9a7"/>
<rect x="511" y="678.2" width="1" height="19.3" fill="#f7a9a7"/>
<rect x="512" y="679.0" width="1" height="18.5" fill="#92d2cc"/>
<rect x="513" y="674.2" width="1" height="23.3" fill="#f7a9a7"/>
<rect x="514" y="676.0" width="1" height="21.5" fill="#f7a9a7"/>
<rect x="515" y="676.9" width="1" height="20.6" fill="#92d2cc"/>
<rect x="516" y="678.0" width="1" height="19.5" fill="#f7a9a7"/>
<rect x="517" y="675.9" width="1" height="21.6" fill="#f7a9a7"/>
<rect x="518" y="669.5" width="1" height="28.0" fill="#c6bdb8"/>
<rect x="519" y="673.1" width="1" height="24.4" fill="#92d2cc"/>
<rect x="520" y="680.8" width="1" height="16.7" fill="#c6bdb8"/>
<rect x="521" y="679.3" width="1" height="18.2" fill="#92d2cc"/>
<rect x="522" y="673.5" width="1" height="24.0" fill="#f7a9a7"/>
<rect x="523" y="676.2" width="1" height="21.3" fill="#92d2cc"/>
<rect x="524" y="672.4" width="1" height="25.1" fill="#92d2cc"/>
<rect x="525" y="668.8" width="1" height="28.7" fill="#c6bdb8"/>
<rect x="526" y="680.3" width="1" height="17.2" fill="#f7a9a7"/>
<rect x="527" y="680.0" width="1" height="17.5" fill="#f7a9a7"/>
<rect x="528" y="674.9" width="1" height="22.6" fill="#f7a9a7"/>
<rect x="529" y="679.0" width="1" height="18.5" fill="#f7a9a7"/>
<rect x="530" y="667.1" width="1" height="30.4" fill="#c6bdb8"/>
<rect x="531" y="666.0" width="1" height="31.5" fill="#92d2cc"/>
<rect x="532" y="677.6" width="1" height="19.9" fill="#f7a9a7"/>
<rect x="533" y="670.6" width="1" height="26.9" fill="#92d2cc"/>
<rect x="534" y="669.0" width="1" height="28.5" fill="#92d2cc"/>
<rect x="535" y="669.9" width="1" height="27.6" fill="#92d2cc"/>
<rect x="536" y="678.4" width="1" height="19.1" fill="#c6bdb8"/>
<rect x="537" y="676.8" width="1" height="20.7" fill="#92d2cc"/>
<rect x="538" y="680.7" width="1" height="16.8" fill="#f7a9a7"/>
<rect x="539" y="686.3" width="1" height="11.2" fill="#92d2cc"/>
<rect x="540" y="691.4" width="1" height="6.1" fill="#f7a9a7"/>
<rect x="541" y="690.9" width="1" height="6.6" fill="#f7a9a7"/>
<rect x="542" y="691.8" width="1" height="5.7" fill="#f7a9a7"/>
<rect x="543" y="692.2" width="1" height="5.3" fill="#f7a9a7"/>
<rect x="544" y="693.3" width="1" height="4.2" fill="#c6bdb8"/>
<rect x="545" y="691.0" width="1" height="6.5" fill="#92d2cc"/>
<rect x="546" y="692.6" width="1" height="4.9" fill="#c6bdb8"/>
<rect x="547" y="690.7" width="1" height="6.8" fill="#f7a9a7"/>
<rect x="548" y="693.6" width="1" height="3.9" fill="#f7a9a7"/>
<rect x="549" y="693.6" width="1" height="3.9" fill="#92d2cc"/>
<rect x="550" y="693.5" width="1" height="4.0" fill="#92d2cc"/>
<rect x="551" y="693.7" width="1" height="3.8" fill="#92d2cc"/>
<rect x="552" y="693.7" width="1" height="3.8" fill="#c6bdb8"/>
<rect x="553" y="694.1" width="1" height="3.4" fill="#c6bdb8"/>
<rect x="554" y="692.2" width="1" height="5.3" fill="#92d2cc"/>
<rect x="555" y="693.9" width="1" height="3.6" fill="#f7a9a7"/>
<rect x="556" y="693.4" width="1" height="4.1" fill="#f7a9a7"/>
<rect x="557" y="693.9" width="1" height="3.6" fill="#92d2cc"/>
<rect x="558" y="693.5" width="1" height="4.0" fill="#c6bdb8"/>
<rect x="559" y="692.3" width="1" height="5.2" fill="#92d2cc"/>
<rect x="560" y="693.0" width="1" height="4.5" fill="#92d2cc"/>
<rect x="561" y="693.5" width="1" height="4.0" fill="#f7a9a7"/>
<rect x="562" y="694.0" width="1" height="3.5" fill="#c6bdb8"/>
<rect x="563" y="694.1" width="1" height="3.4" fill="#92d2cc"/>
<rect x="564" y="693.9" width="1" height="3.6" fill="#f7a9a7"/>
<rect x="565" y="694.1" width="1" height="3.4" fill="#f7a9a7"/>
<rect x="566" y="692.7" width="1" height="4.8" fill="#f7a9a7"/>
<rect x="567" y="692.9" width="1" height="4.6" fill="#f7a9a7"/>
<rect x="568" y="694.8" width="1" height="2.7" fill="#92d2cc"/>
<rect x="569" y="693.1" width="1" height="4.4" fill="#f7a9a7"/>
<rect x="570" y="694.2" width="1" height="3.3" fill="#92d2cc"/>
<rect x="571" y="692.2" width="1" height="5.3" fill="#f7a9a7"/>
<rect x="572" y="691.5" width="1" height="6.0" fill="#c6bdb8"/>
<rect x="573" y="692.5" width="1" height="5.0" fill="#92d2cc"/>
<rect x="574" y="691.6" width="1" height="5.9" fill="#f7a9a7"/>
<rect x="575" y="690.7" width="1" height="6.8" fill="#92d2cc"/>
<rect x="576" y="688.9" width="1" height="8.6" fill="#f7a9a7"/>
<rect x="577" y="688.9" width="1" height="8.6" fill="#92d2cc"/>
<rect x="578" y="685.4" width="1" height="12.1" fill="#f7a9a7"/>
<rect x="579" y="685.0" width="1" height="12.5" fill="#92d2cc"/>
<rect x="580" y="684.5" width="1" height="13.0" fill="#f7a9a7"/>
<rect x="581" y="684.1" width="1" height="13.4" fill="#92d2cc"/>
<rect x="582" y="687.2" width="1" height="10.3" fill="#f7a9a7"/>
<rect x="583" y="678.2" width="1" height="19.2" fill="#f7a9a7"/>
<rect x="584" y="677.7" width="1" height="19.8" fill="#c6bdb8"/>
<rect x="585" y="684.9" width="1" height="12.6" fill="#c6bdb8"/>
<rect x="586" y="678.5" width="1" height="19.0" fill="#c6bdb8"/>
<rect x="587" y="676.8" width="1" height="20.7" fill="#c6bdb8"/>
<rect x="588" y="682.5" width="1" height="15.0" fill="#f7a9a7"/>
<rect x="589" y="677.3" width="1" height="20.2" fill="#92d2cc"/>
<rect x="590" y="669.5" width="1" height="28.0" fill="#92d2cc"/>
<rect x="591" y="677.0" width="1" height="20.5" fill="#f7a9a7"/>
<rect x="592" y="674.4" width="1" height="23.1" fill="#f7a9a7"/>
<rect x="593" y="681.0" width="1" height="16.5" fill="#f7a9a7"/>
<rect x="594" y="679.7" width="1" height="17.8" fill="#f7a9a7"/>
<rect x="595" y="682.6" width="1" height="14.9" fill="#f7a9a7"/>
<rect x="596" y="675.7" width="1" height="21.8" fill="#f7a9a7"/>
<rect x="597" y="677.4" width="1" height="20.1" fill="#f7a9a7"/>
<rect x="598" y="678.8" width="1" height="18.7" fill="#92d2cc"/>
<rect x="599" y="683.6" width="1" height="13.9" fill="#92d2cc"/>
<rect x="600" y="672.9" width="1" height="24.6" fill="#92d2cc"/>
<rect x="601" y="679.6" width="1" height="17.9" fill="#f7a9a7"/>
<rect x="602" y="673.5" width="1" height="24.0" fill="#92d2cc"/>
<rect x="603" y="682.9" width="1" height="14.6" fill="#f7a9a7"/>
<rect x="604" y="684.6" width="1" height="12.9" fill="#f7a9a7"/>
<rect x="605" y="676.0" width="1" height="21.5" fill="#92d2cc"/>
<rect x="606" y="683.9" width="1" height="13.6" fill="#f7a9a7"/>
<rect x="607" y="680.0" width="1" height="17.5" fill="#92d2cc"/>
<rect x="608" y="684.2" width="1" height="13.3" fill="#f7a9a7"/>
<rect x="609" y="679.5" width="1" height="18.0" fill="#92d2cc"/>
<rect x="610" y="685.9" width="1" height="11.6" fill="#c6bdb8"/>
<rect x="611" y="683.1" width="1" height="14.4" fill="#f7a9a7"/>
<rect x="612" y="687.0" width="1" height="10.5" fill="#f7a9a7"/>
<rect x="613" y="679.8" width="1" height="17.7" fill="#f7a9a7"/>
<rect x="614" y="682.9" width="1" height="14.6" fill="#c6bdb8"/>
<rect x="615" y="681.2" width="1" height="16.3" fill="#f7a9a7"/>
<rect x="616" y="684.7" width="1" height="12.8" fill="#92d2cc"/>
<rect x="617" y="687.1" width="1" height="10.4" fill="#c6bdb8"/>
<rect x="618" y="686.6" width="1" height="10.9" fill="#92d2cc"/>
<rect x="619" y="685.1" width="1" height="12.4" fill="#f7a9a7"/>
<rect x="620" y="689.4" width="1" height="8.1" fill="#92d2cc"/>
<rect x="621" y="685.1" width="1" height="12.4" fill="#92d2cc"/>
<rect x="622" y="684.4" width="1" height="13.1" fill="#c6bdb8"/>
<rect x="623" y="687.2" width="1" height="10.3" fill="#c6bdb8"/>
<rect x="624" y="683.6" width="1" height="13.9" fill="#c6bdb8"/>
<rect x="625" y="683.7" width="1" height="13.8" fill="#f7a9a7"/>
<rect x="626" y="683.1" width="1" height="14.4" fill="#f7a9a7"/>
<rect x="627" y="679.4" width="1" height="18.1" fill="#92d2cc"/>
<rect x="628" y="681.2" width="1" height="16.3" fill="#c6bdb8"/>
<rect x="629" y="684.6" width="1" height="12.9" fill="#92d2cc"/>
<rect x="630" y="686.2" width="1" height="11.3" fill="#f7a9a7"/>
<rect x="631" y="684.7" width="1" height="12.8" fill="#f7a9a7"/>
<rect x="632" y="684.7" width="1" height="12.8" fill="#c6bdb8"/>
<rect x="633" y="676.7" width="1" height="20.8" fill="#c6bdb8"/>
<rect x="634" y="677.2" width="1" height="20.3" fill="#f7a9a7"/>
<rect x="635" y="680.6" width="1" height="16.9" fill="#92d2cc"/>
<rect x="636" y="683.7" width="1" height="13.8" fill="#92d2cc"/>
<rect x="637" y="685.0" width="1" height="12.5" fill="#92d2cc"/>
<rect x="638" y="683.5" width="1" height="14.0" fill="#f7a9a7"/>
<rect x="639" y="685.3" width="1" height="12.2" fill="#92d2cc"/>
<rect x="640" y="684.4" width="1" height="13.1" fill="#f7a9a7"/>
<rect x="641" y="682.9" width="1" height="14.6" fill="#c6bdb8"/>
<rect x="642" y="682.5" width="1" height="15.0" fill="#c6bdb8"/>
<rect x="643" y="679.9" width="1" height="17.6" fill="#92d2cc"/>
<rect x="644" y="683.0" width="1" height="14.5" fill="#92d2cc"/>
<rect x="645" y="681.9" width="1" height="15.6" fill="#c6bdb8"/>
<rect x="646" y="680.5" width="1" height="17.0" fill="#c6bdb8"/>
<rect x="647" y="682.0" width="1" height="15.5" fill="#92d2cc"/>
<rect x="648" y="683.4" width="1" height="14.1" fill="#92d2cc"/>
<rect x="649" y="682.7" width="1" height="14.8" fill="#c6bdb8"/>
<rect x="650" y="673.5" width="1" height="24.0" fill="#f7a9a7"/>
<rect x="651" y="683.9" width="1" height="13.6" fill="#f7a9a7"/>
<rect x="652" y="674.5" width="1" height="23.0" fill="#c6bdb8"/>
<rect x="653" y="677.6" width="1" height="19.9" fill="#f7a9a7"/>
<rect x="654" y="680.7" width="1" height="16.8" fill="#f7a9a7"/>
<rect x="655" y="675.0" width="1" height="22.5" fill="#c6bdb8"/>
<rect x="656" y="680.7" width="1" height="16.8" fill="#f7a9a7"/>
<rect x="657" y="672.1" width="1" height="25.4" fill="#92d2cc"/>
<rect x="658" y="667.0" width="1" height="30.5" fill="#f7a9a7"/>
<rect x="659" y="662.0" width="1" height="35.5" fill="#f7a9a7"/>
<rect x="660" y="666.9" width="1" height="30.6" fill="#f7a9a7"/>
<rect x="661" y="664.4" width="1" height="33.1" fill="#f7a9a7"/>
<rect x="662" y="674.8" width="1" height="22.7" fill="#f7a9a7"/>
<rect x="663" y="666.1" width="1" height="31.4" fill="#c6bdb8"/>
<rect x="664" y="670.1" width="1" height="27.4" fill="#92d2cc"/>
<rect x="665" y="674.2" width="1" height="23.3" fill="#92d2cc"/>
<rect x="666" y="663.9" width="1" height="33.6" fill="#f7a9a7"/>
<rect x="667" y="664.0" width="1" height="33.5" fill="#c6bdb8"/>
<rect x="668" y="667.4" width="1" height="30.1" fill="#f7a9a7"/>
<rect x="669" y="672.9" width="1" height="24.6" fill="#92d2cc"/>
<rect x="670" y="667.0" width="1" height="30.5" fill="#92d2cc"/>
<rect x="671" y="679.0" width="1" height="18.5" fill="#92d2cc"/>
<rect x="672" y="672.5" width="1" height="25.0" fill="#c6bdb8"/>
<rect x="673" y="664.2" width="1" height="33.3" fill="#92d2cc"/>
<rect x="674" y="669.2" width="1" height="28.3" fill="#f7a9a7"/>
<rect x="675" y="664.7" width="1" height="32.8" fill="#92d2cc"/>
<rect x="676" y="668.2" width="1" height="29.3" fill="#f7a9a7"/>
<rect x="677" y="649.7" width="1" height="47.8" fill="#f7a9a7"/>
<rect x="678" y="649.5" width="1" height="48.0" fill="#f7a9a7"/>
<rect x="679" y="646.7" width="1" height="50.8" fill="#92d2cc"/>
<rect x="680" y="642.3" width="1" height="55.2" fill="#92d2cc"/>
<rect x="681" y="648.9" width="1" height="48.6" fill="#92d2cc"/>
<rect x="682" y="655.4" width="1" height="42.1" fill="#92d2cc"/>
<rect x="683" y="647.6" width="1" height="49.9" fill="#92d2cc"/>
<rect x="684" y="645.2" width="1" height="52.3" fill="#92d2cc"/>
<rect x="685" y="650.6" width="1" height="46.9" fill="#92d2cc"/>
<rect x="686" y="661.6" width="1" height="35.9" fill="#92d2cc"/>
<rect x="687" y="661.8" width="1" height="35.7" fill="#f7a9a7"/>
<rect x="688" y="659.9" width="1" height="37.6" fill="#92d2cc"/>
<rect x="689" y="666.0" width="1" height="31.5" fill="#92d2cc"/>
<rect x="690" y="667.3" width="1" height="30.2" fill="#c6bdb8"/>
<rect x="691" y="649.8" width="1" height="47.7" fill="#92d2cc"/>
<rect x="692" y="655.6" width="1" height="41.9" fill="#f7a9a7"/>
<rect x="693" y="670.1" width="1" height="27.4" fill="#f7a9a7"/>
<rect x="694" y="670.6" width="1" height="26.9" fill="#92d2cc"/>
<rect x="695" y="675.0" width="1" height="22.5" fill="#f7a9a7"/>
<rect x="696" y="674.0" width="1" height="23.5" fill="#f7a9a7"/>
<rect x="697" y="666.1" width="1" height="31.4" fill="#92d2cc"/>
<rect x="698" y="671.3" width="1" height="26.2" fill="#92d2cc"/>
<rect x="699" y="664.1" width="1" height="33.4" fill="#c6bdb8"/>
<rect x="700" y="671.4" width="1" height="26.1" fill="#f7a9a7"/>
<rect x="701" y="673.9" width="1" height="23.6" fill="#c6bdb8"/>
<rect x="702" y="663.8" width="1" height="33.7" fill="#c6bdb8"/>
<rect x="703" y="666.2" width="1" height="31.3" fill="#92d2cc"/>
<rect x="704" y="664.5" width="1" height="33.0" fill="#c6bdb8"/>
<rect x="705" y="665.8" width="1" height="31.7" fill="#92d2cc"/>
<rect x="706" y="668.0" width="1" height="29.5" fill="#92d2cc"/>
<rect x="707" y="674.4" width="1" height="23.1" fill="#f7a9a7"/>
<rect x="708" y="669.1" width="1" height="28.4" fill="#f7a9a7"/>
<rect x="709" y="671.7" width="1" height="25.8" fill="#f7a9a7"/>
<rect x="710" y="663.0" width="1" height="34.5" fill="#92d2cc"/>
<rect x="711" y="660.6" width="1" height="36.9" fill="#92d2cc"/>
<rect x="712" y="669.1" width="1" height="28.4" fill="#f7a9a7"/>
<rect x="713" y="667.4" width="1" height="30.1" fill="#f7a9a7"/>
<rect x="714" y="659.8" width="1" height="37.7" fill="#f7a9a7"/>
<rect x="715" y="662.0" width="1" height="35.5" fill="#f7a9a7"/>
<rect x="716" y="667.6" width="1" height="29.9" fill="#c6bdb8"/>
<rect x="717" y="655.6" width="1" height="41.9" fill="#f7a9a7"/>
<rect x="718" y="657.2" width="1" height="40.3" fill="#f7a9a7"/>
<rect x="719" y="654.3" width="1" height="43.2" fill="#c6bdb8"/>
<rect x="720" y="669.8" width="1" height="27.7" fill="#f7a9a7"/>
<rect x="721" y="639.4" width="1" height="58.1" fill="#c6bdb8"/>
<rect x="722" y="595.0" width="1" height="102.5" fill="#c6bdb8"/>
<rect x="723" y="629.5" width="1" height="68.0" fill="#f7a9a7"/>
<rect x="724" y="631.9" width="1" height="65.6" fill="#f7a9a7"/>
<rect x="725" y="614.0" width="1" height="83.5" fill="#f7a9a7"/>
<rect x="726" y="592.5" width="1" height="105.0" fill="#92d2cc"/>
<rect x="727" y="599.6" width="1" height="97.9" fill="#c6bdb8"/>
<rect x="728" y="627.7" width="1" height="69.8" fill="#92d2cc"/>
<rect x="729" y="590.6" width="1" height="106.9" fill="#f7a9a7"/>
<rect x="730" y="590.0" width="1" height="107.5" fill="#f7a9a7"/>
<rect x="731" y="609.4" width="1" height="88.1" fill="#f7a9a7"/>
<rect x="732" y="588.5" width="1" height="109.0" fill="#f7a9a7"/>
<rect x="733" y="630.4" width="1" height="67.1" fill="#c6bdb8"/>
<rect x="734" y="625.4" width="1" height="72.1" fill="#c6bdb8"/>
<rect x="735" y="616.4" width="1" height="81.1" fill="#f7a9a7"/>
<rect x="736" y="616.3" width="1" height="81.2" fill="#92d2cc"/>
<rect x="737" y="604.8" width="1" height="92.7" fill="#f7a9a7"/>
<rect x="738" y="586.9" width="1" height="110.6" fill="#f7a9a7"/>
<rect x="739" y="622.2" width="1" height="75.3" fill="#f7a9a7"/>
<rect x="740" y="582.4" width="1" height="115.1" fill="#c6bdb8"/>
<rect x="741" y="587.2" width="1" height="110.3" fill="#92d2cc"/>
<rect x="742" y="631.8" width="1" height="65.7" fill="#c6bdb8"/>
<rect x="743" y="599.8" width="1" height="97.7" fill="#f7a9a7"/>
<rect x="744" y="613.3" width="1" height="84.2" fill="#f7a9a7"/>
<rect x="745" y="608.0" width="1" height="89.5" fill="#f7a9a7"/>
<rect x="746" y="625.0" width="1" height="72.5" fill="#f7a9a7"/>
<rect x="747" y="614.1" width="1" height="83.4" fill="#92d2cc"/>
<rect x="748" y="585.0" width="1" height="112.5" fill="#f7a9a7"/>
<rect x="749" y="592.0" width="1" height="105.5" fill="#f7a9a7"/>
<rect x="750" y="587.5" width="1" height="110.0" fill="#c6bdb8"/>
<rect x="751" y="604.5" width="1" height="93.0" fill="#f7a9a7"/>
<rect x="752" y="599.4" width="1" height="98.1" fill="#f7a9a7"/>
<rect x="753" y="633.3" width="1" height="64.2" fill="#c6bdb8"/>
<rect x="754" y="611.3" width="1" height="86.2" fill="#92d2cc"/>
<rect x="755" y="646.2" width="1" height="51.3" fill="#f7a9a7"/>
<rect x="756" y="652.6" width="1" height="44.9" fill="#f7a9a7"/>
<rect x="757" y="630.5" width="1" height="67.0" fill="#c6bdb8"/>
<rect x="758" y="659.5" width="1" height="38.0" fill="#c6bdb8"/>
<rect x="759" y="659.8" width="1" height="37.7" fill="#f7a9a7"/>
<rect x="760" y="643.0" width="1" height="54.5" fill="#92d2cc"/>
<rect x="761" y="661.1" width="1" height="36.4" fill="#f7a9a7"/>
<rect x="762" y="663.1" width="1" height="34.4" fill="#92d2cc"/>
<rect x="763" y="659.3" width="1" height="38.2" fill="#92d2cc"/>
<rect x="764" y="659.3" width="1" height="38.2" fill="#92d2cc"/>
<rect x="765" y="669.7" width="1" height="27.8" fill="#92d2cc"/>
<rect x="766" y="670.6" width="1" height="26.9" fill="#92d2cc"/>
<rect x="767" y="673.7" width="1" height="23.8" fill="#c6bdb8"/>
<rect x="768" y="668.3" width="1" height="29.2" fill="#f7a9a7"/>
<rect x="769" y="676.1" width="1" height="21.4" fill="#92d2cc"/>
<rect x="770" y="674.6" width="1" height="22.9" fill="#f7a9a7"/>
<rect x="771" y="665.5" width="1" height="32.0" fill="#f7a9a7"/>
<rect x="772" y="666.1" width="1" height="31.4" fill="#f7a9a7"/>
<rect x="773" y="679.7" width="1" height="17.8" fill="#f7a9a7"/>
<rect x="774" y="680.2" width="1" height="17.3" fill="#92d2cc"/>
<rect x="775" y="676.8" width="1" height="20.7" fill="#f7a9a7"/>
<rect x="776" y="669.2" width="1" height="28.3" fill="#92d2cc"/>
<rect x="777" y="673.9" width="1" height="23.6" fill="#92d2cc"/>
<rect x="778" y="675.2" width="1" height="22.3" fill="#f7a9a7"/>
<rect x="779" y="677.0" width="1" height="20.5" fill="#92d2cc"/>
<rect x="780" y="676.2" width="1" height="21.3" fill="#92d2cc"/>
<rect x="781" y="682.4" width="1" height="15.1" fill="#92d2cc"/>
<rect x="782" y="677.2" width="1" height="20.3" fill="#92d2cc"/>
<rect x="783" y="672.8" width="1" height="24.7" fill="#92d2cc"/>
<rect x="784" y="675.4" width="1" height="22.1" fill="#c6bdb8"/>
<rect x="785" y="680.0" width="1" height="17.5" fill="#92d2cc"/>
<rect x="786" y="681.2" width="1" height="16.3" fill="#f7a9a7"/>
<rect x="787" y="680.3" width="1" height="17.2" fill="#c6bdb8"/>
<rect x="788" y="677.7" width="1" height="19.8" fill="#f7a9a7"/>
<rect x="789" y="675.8" width="1" height="21.7" fill="#92d2cc"/>
<rect x="790" y="681.7" width="1" height="15.8" fill="#c6bdb8"/>
<rect x="791" y="682.7" width="1" height="14.8" fill="#c6bdb8"/>
<rect x="792" y="681.2" width="1" height="16.3" fill="#f7a9a7"/>
<rect x="793" y="673.4" width="1" height="24.1" fill="#92d2cc"/>
<rect x="794" y="680.2" width="1" height="17.3" fill="#92d2cc"/>
<rect x="795" y="670.1" width="1" height="27.4" fill="#f7a9a7"/>
<rect x="796" y="668.6" width="1" height="28.9" fill="#c6bdb8"/>
<rect x="797" y="677.0" width="1" height="20.5" fill="#c6bdb8"/>
<rect x="798" y="673.0" width="1" height="24.5" fill="#92d2cc"/>
<rect x="799" y="672.5" width="1" height="25.0" fill="#92d2cc"/>
<rect x="800" y="674.1" width="1" height="23.4" fill="#c6bdb8"/>
<rect x="801" y="672.5" width="1" height="25.0" fill="#f7a9a7"/>
<rect x="802" y="671.2" width="1" height="26.3" fill="#f7a9a7"/>
<rect x="803" y="671.4" width="1" height="26.1" fill="#c6bdb8"/>
<rect x="804" y="676.5" width="1" height="21.0" fill="#92d2cc"/>
<rect x="805" y="671.2" width="1" height="26.3" fill="#92d2cc"/>
<rect x="806" y="664.6" width="1" height="32.9" fill="#c6bdb8"/>
<rect x="807" y="670.1" width="1" height="27.4" fill="#f7a9a7"/>
<rect x="808" y="673.3" width="1" height="24.2" fill="#f7a9a7"/>
<rect x="809" y="670.0" width="1" height="27.5" fill="#f7a9a7"/>
<rect x="810" y="673.3" width="1" height="24.2" fill="#f7a9a7"/>
<rect x="811" y="657.6" width="1" height="39.9" fill="#92d2cc"/>
<rect x="812" y="662.5" width="1" height="35.0" fill="#c6bdb8"/>
<rect x="813" y="650.8" width="1" height="46.7" fill="#92d2cc"/>
<rect x="814" y="662.6" width="1" height="34.9" fill="#c6bdb8"/>
<rect x="815" y="662.8" width="1" height="34.7" fill="#c6bdb8"/>
<rect x="816" y="674.5" width="1" height="23.0" fill="#f7a9a7"/>
<rect x="817" y="686.3" width="1" height="11.2" fill="#f7a9a7"/>
<rect x="818" y="686.3" width="1" height="11.2" fill="#f7a9a7"/>
<rect x="819" y="688.0" width="1" height="9.5" fill="#f7a9a7"/>
<rect x="820" y="686.4" width="1" height="11.1" fill="#92d2cc"/>
<rect x="821" y="685.9" width="1" height="11.6" fill="#c6bdb8"/>
<rect x="822" y="686.6" width="1" height="10.9" fill="#c6bdb8"/>
<rect x="823" y="689.5" width="1" height="8.0" fill="#92d2cc"/>
<rect x="824" y="689.6" width="1" height="7.9" fill="#92d2cc"/>
<rect x="825" y="687.4" width="1" height="10.1" fill="#f7a9a7"/>
<rect x="826" y="683.4" width="1" height="14.1" fill="#92d2cc"/>
<rect x="827" y="685.8" width="1" height="11.7" fill="#92d2cc"/>
<rect x="828" y="682.7" width="1" height="14.8" fill="#f7a9a7"/>
<rect x="829" y="682.7" width="1" height="14.8" fill="#c6bdb8"/>
<rect x="830" y="681.5" width="1" height="16.0" fill="#f7a9a7"/>
<rect x="831" y="686.5" width="1" height="11.0" fill="#f7a9a7"/>
<rect x="832" y="677.5" width="1" height="20.0" fill="#f7a9a7"/>
<rect x="833" y="683.1" width="1" height="14.4" fill="#92d2cc"/>
<rect x="834" y="679.8" width="1" height="17.7" fill="#92d2cc"/>
<rect x="835" y="684.3" width="1" height="13.2" fill="#f7a9a7"/>
<rect x="836" y="685.1" width="1" height="12.4" fill="#92d2cc"/>
<rect x="837" y="689.1" width="1" height="8.4" fill="#c6bdb8"/>
<rect x="838" y="689.1" width="1" height="8.4" fill="#92d2cc"/>
<rect x="839" y="688.7" width="1" height="8.8" fill="#92d2cc"/>
<rect x="840" y="692.1" width="1" height="5.4" fill="#92d2cc"/>
<rect x="841" y="688.8" width="1" height="8.7" fill="#92d2cc"/>
<rect x="842" y="686.1" width="1" height="11.4" fill="#92d2cc"/>
<rect x="843" y="684.1" width="1" height="13.4" fill="#92d2cc"/>
<rect x="844" y="682.7" width="1" height="14.8" fill="#92d2cc"/>
<rect x="845" y="687.3" width="1" height="10.2" fill="#f7a9a7"/>
<rect x="846" y="685.0" width="1" height="12.5" fill="#f7a9a7"/>
<rect x="847" y="683.8" width="1" height="13.7" fill="#92d2cc"/>
<rect x="848" y="677.6" width="1" height="19.9" fill="#92d2cc"/>
<rect x="849" y="682.2" width="1" height="15.3" fill="#92d2cc"/>
<rect x="850" y="680.0" width="1" height="17.5" fill="#f7a9a7"/>
<rect x="851" y="683.6" width="1" height="13.9" fill="#f7a9a7"/>
<rect x="852" y="681.4" width="1" height="16.1" fill="#92d2cc"/>
<rect x="853" y="670.0" width="1" height="27.5" fill="#f7a9a7"/>
<rect x="854" y="671.3" width="1" height="26.2" fill="#c6bdb8"/>
<rect x="855" y="669.2" width="1" height="28.3" fill="#92d2cc"/>
<rect x="856" y="674.5" width="1" height="23.0" fill="#92d2cc"/>
<rect x="857" y="663.6" width="1" height="33.9" fill="#92d2cc"/>
<rect x="858" y="669.6" width="1" height="27.9" fill="#92d2cc"/>
<rect x="859" y="668.5" width="1" height="29.0" fill="#92d2cc"/>
<rect x="860" y="657.0" width="1" height="40.5" fill="#c6bdb8"/>
<rect x="861" y="662.9" width="1" height="34.6" fill="#f7a9a7"/>
<rect x="862" y="664.9" width="1" height="32.6" fill="#c6bdb8"/>
<rect x="863" y="653.7" width="1" height="43.8" fill="#f7a9a7"/>
<rect x="864" y="670.9" width="1" height="26.6" fill="#f7a9a7"/>
<rect x="865" y="658.7" width="1" height="38.8" fill="#f7a9a7"/>
<rect x="866" y="663.8" width="1" height="33.7" fill="#f7a9a7"/>
<rect x="867" y="657.3" width="1" height="40.2" fill="#f7a9a7"/>
<rect x="868" y="662.7" width="1" height="34.8" fill="#92d2cc"/>
<rect x="869" y="666.1" width="1" height="31.4" fill="#f7a9a7"/>
<rect x="870" y="662.0" width="1" height="35.5" fill="#f7a9a7"/>
<rect x="871" y="667.0" width="1" height="30.5" fill="#92d2cc"/>
<rect x="872" y="664.5" width="1" height="33.0" fill="#f7a9a7"/>
<rect x="873" y="665.8" width="1" height="31.8" fill="#f7a9a7"/>
<rect x="874" y="670.9" width="1" height="26.6" fill="#f7a9a7"/>
<rect x="875" y="670.3" width="1" height="27.2" fill="#92d2cc"/>
<rect x="876" y="671.0" width="1" height="26.5" fill="#92d2cc"/>
<rect x="877" y="680.7" width="1" height="16.8" fill="#f7a9a7"/>
<rect x="878" y="675.9" width="1" height="21.6" fill="#f7a9a7"/>
<rect x="879" y="683.9" width="1" height="13.6" fill="#92d2cc"/>
<rect x="880" y="676.1" width="1" height="21.4" fill="#f7a9a7"/>
<rect x="881" y="684.1" width="1" height="13.4" fill="#f7a9a7"/>
<rect x="882" y="675.5" width="1" height="22.0" fill="#c6bdb8"/>
<rect x="883" y="678.8" width="1" height="18.7" fill="#f7a9a7"/>
<rect x="884" y="680.2" width="1" height="17.3" fill="#92d2cc"/>
<rect x="885" y="683.4" width="1" height="14.1" fill="#92d2cc"/>
<rect x="886" y="681.5" width="1" height="16.0" fill="#92d2cc"/>
<rect x="887" y="684.8" width="1" height="12.7" fill="#92d2cc"/>
<rect x="888" y="684.9" width="1" height="12.6" fill="#92d2cc"/>
<rect x="889" y="682.5" width="1" height="15.0" fill="#f7a9a7"/>
<rect x="890" y="679.5" width="1" height="18.0" fill="#f7a9a7"/>
<rect x="891" y="680.7" width="1" height="16.8" fill="#c6bdb8"/>
<rect x="892" y="687.5" width="1" height="10.0" fill="#92d2cc"/>
<rect x="893" y="687.7" width="1" height="9.8" fill="#f7a9a7"/>
<rect x="894" y="681.2" width="1" height="16.3" fill="#f7a9a7"/>
<rect x="895" y="682.7" width="1" height="14.8" fill="#c6bdb8"/>
<rect x="896" y="686.3" width="1" height="11.2" fill="#f7a9a7"/>
<rect x="897" y="681.6" width="1" height="15.9" fill="#92d2cc"/>
<rect x="898" y="683.7" width="1" height="13.8" fill="#92d2cc"/>
<rect x="899" y="684.0" width="1" height="13.5" fill="#92d2cc"/>
<rect x="900" y="685.4" width="1" height="12.1" fill="#92d2cc"/>
<rect x="901" y="687.8" width="1" height="9.7" fill="#c6bdb8"/>
<rect x="902" y="685.6" width="1" height="11.9" fill="#92d2cc"/>
<rect x="903" y="687.7" width="1" height="9.8" fill="#f7a9a7"/>
<rect x="904" y="687.3" width="1" height="10.2" fill="#f7a9a7"/>
<rect x="905" y="687.7" width="1" height="9.8" fill="#92d2cc"/>
<rect x="906" y="686.7" width="1" height="10.8" fill="#92d2cc"/>
<rect x="907" y="688.4" width="1" height="9.1" fill="#c6bdb8"/>
<rect x="908" y="689.3" width="1" height="8.2" fill="#f7a9a7"/>
<rect x="909" y="689.4" width="1" height="8.1" fill="#92d2cc"/>
<rect x="910" y="688.9" width="1" height="8.6" fill="#f7a9a7"/>
<rect x="911" y="685.0" width="1" height="12.5" fill="#92d2cc"/>
<rect x="912" y="688.2" width="1" height="9.3" fill="#92d2cc"/>
<rect x="913" y="685.8" width="1" height="11.7" fill="#92d2cc"/>
<rect x="914" y="680.5" width="1" height="17.0" fill="#f7a9a7"/>
<rect x="915" y="679.5" width="1" height="18.0" fill="#92d2cc"/>
<rect x="916" y="686.5" width="1" height="11.0" fill="#f7a9a7"/>
<rect x="917" y="685.5" width="1" height="12.0" fill="#f7a9a7"/>
<rect x="918" y="684.9" width="1" height="12.6" fill="#f7a9a7"/>
<rect x="919" y="679.8" width="1" height="17.7" fill="#f7a9a7"/>
<rect x="920" y="684.1" width="1" height="13.4" fill="#f7a9a7"/>
<rect x="921" y="672.2" width="1" height="25.3" fill="#92d2cc"/>
<rect x="922" y="669.5" width="1" height="28.0" fill="#f7a9a7"/>
<rect x="923" y="673.0" width="1" height="24.5" fill="#f7a9a7"/>
<rect x="924" y="665.1" width="1" height="32.4" fill="#92d2cc"/>
<rect x="925" y="669.3" width="1" height="28.2" fill="#f7a9a7"/>
<rect x="926" y="676.7" width="1" height="20.8" fill="#f7a9a7"/>
<rect x="927" y="663.5" width="1" height="34.0" fill="#f7a9a7"/>
<rect x="928" y="677.2" width="1" height="20.3" fill="#f7a9a7"/>
<rect x="929" y="663.0" width="1" height="34.5" fill="#92d2cc"/>
<rect x="930" y="674.1" width="1" height="23.4" fill="#92d2cc"/>
<rect x="931" y="670.8" width="1" height="26.7" fill="#92d2cc"/>
<rect x="932" y="663.8" width="1" height="33.7" fill="#f7a9a7"/>
<rect x="933" y="674.2" width="1" height="23.3" fill="#92d2cc"/>
<rect x="934" y="673.9" width="1" height="23.6" fill="#92d2cc"/>
<rect x="935" y="671.2" width="1" height="26.3" fill="#f7a9a7"/>
<rect x="936" y="675.3" width="1" height="22.2" fill="#f7a9a7"/>
<rect x="937" y="663.6" width="1" height="33.9" fill="#c6bdb8"/>
<rect x="938" y="664.3" width="1" height="33.2" fill="#92d2cc"/>
<rect x="939" y="663.5" width="1" height="34.0" fill="#92d2cc"/>
<rect x="940" y="666.4" width="1" height="31.1" fill="#f7a9a7"/>
<rect x="941" y="667.6" width="1" height="29.9" fill="#92d2cc"/>
<rect x="942" y="674.8" width="1" height="22.7" fill="#92d2cc"/>
<rect x="943" y="670.5" width="1" height="27.0" fill="#f7a9a7"/>
<rect x="944" y="668.9" width="1" height="28.6" fill="#92d2cc"/>
<rect x="945" y="676.6" width="1" height="20.9" fill="#c6bdb8"/>
<rect x="946" y="661.9" width="1" height="35.6" fill="#92d2cc"/>
<rect x="947" y="673.7" width="1" height="23.8" fill="#f7a9a7"/>
<rect x="948" y="666.1" width="1" height="31.4" fill="#f7a9a7"/>
<rect x="949" y="653.5" width="1" height="44.0" fill="#f7a9a7"/>
<rect x="950" y="655.6" width="1" height="41.9" fill="#92d2cc"/>
<rect x="951" y="667.6" width="1" height="29.9" fill="#c6bdb8"/>
<rect x="952" y="646.9" width="1" height="50.6" fill="#92d2cc"/>
<rect x="953" y="638.2" width="1" height="59.3" fill="#f7a9a7"/>
<rect x="954" y="656.0" width="1" height="41.5" fill="#c6bdb8"/>
<rect x="955" y="648.3" width="1" height="49.2" fill="#92d2cc"/>
<rect x="956" y="656.9" width="1" height="40.6" fill="#f7a9a7"/>
<rect x="957" y="665.7" width="1" height="31.8" fill="#f7a9a7"/>
<rect x="958" y="665.2" width="1" height="32.3" fill="#f7a9a7"/>
<rect x="959" y="662.4" width="1" height="35.1" fill="#f7a9a7"/>
<rect x="960" y="666.1" width="1" height="31.4" fill="#f7a9a7"/>
<rect x="961" y="672.8" width="1" height="24.7" fill="#92d2cc"/>
<rect x="962" y="675.2" width="1" height="22.3" fill="#c6bdb8"/>
<rect x="963" y="669.7" width="1" height="27.8" fill="#92d2cc"/>
<rect x="964" y="676.2" width="1" height="21.3" fill="#92d2cc"/>
<rect x="965" y="679.2" width="1" height="18.3" fill="#92d2cc"/>
<rect x="966" y="678.1" width="1" height="19.4" fill="#f7a9a7"/>
<rect x="967" y="669.7" width="1" height="27.8" fill="#f7a9a7"/>
<rect x="968" y="672.2" width="1" height="25.3" fill="#92d2cc"/>
<rect x="969" y="675.2" width="1" height="22.3" fill="#c6bdb8"/>
<rect x="970" y="679.9" width="1" height="17.6" fill="#c6bdb8"/>
<rect x="971" y="674.2" width="1" height="23.3" fill="#92d2cc"/>
<rect x="972" y="671.3" width="1" height="26.2" fill="#92d2cc"/>
<rect x="973" y="674.8" width="1" height="22.7" fill="#f7a9a7"/>
<rect x="974" y="669.8" width="1" height="27.7" fill="#c6bdb8"/>
<rect x="975" y="669.5" width="1" height="28.0" fill="#92d2cc"/>
<rect x="976" y="668.9" width="1" height="28.6" fill="#92d2cc"/>
<rect x="977" y="670.6" width="1" height="26.9" fill="#92d2cc"/>
<rect x="978" y="671.8" width="1" height="25.7" fill="#92d2cc"/>
<rect x="979" y="674.6" width="1" height="22.9" fill="#f7a9a7"/>
<rect x="980" y="665.2" width="1" height="32.3" fill="#92d2cc"/>
<rect x="981" y="668.0" width="1" height="29.5" fill="#92d2cc"/>
<rect x="982" y="676.9" width="1" height="20.6" fill="#92d2cc"/>
<rect x="983" y="662.9" width="1" height="34.6" fill="#f7a9a7"/>
<rect x="984" y="664.8" width="1" height="32.7" fill="#f7a9a7"/>
<rect x="985" y="664.1" width="1" height="33.4" fill="#f7a9a7"/>
<rect x="986" y="674.9" width="1" height="22.6" fill="#f7a9a7"/>
<rect x="987" y="668.5" width="1" height="29.0" fill="#f7a9a7"/>
<rect x="988" y="676.7" width="1" height="20.8" fill="#c6bdb8"/>
<rect x="989" y="672.0" width="1" height="25.5" fill="#f7a9a7"/>
<rect x="990" y="676.2" width="1" height="21.3" fill="#92d2cc"/>
<rect x="991" y="673.0" width="1" height="24.5" fill="#92d2cc"/>
<rect x="992" y="656.0" width="1" height="41.5" fill="#c6bdb8"/>
<rect x="993" y="657.2" width="1" height="40.3" fill="#92d2cc"/>
<rect x="994" y="650.0" width="1" height="47.5" fill="#f7a9a7"/>
<rect x="995" y="657.1" width="1" height="40.4" fill="#f7a9a7"/>
<rect x="996" y="650.7" width="1" height="46.8" fill="#92d2cc"/>
<rect x="997" y="658.2" width="1" height="39.3" fill="#f7a9a7"/>
<rect x="998" y="662.0" width="1" height="35.5" fill="#f7a9a7"/>
<rect x="999" y="645.0" width="1" height="52.5" fill="#92d2cc"/>
<rect x="1000" y="631.3" width="1" height="66.2" fill="#f7a9a7"/>
<rect x="1001" y="609.9" width="1" height="87.6" fill="#c6bdb8"/>
<rect x="1002" y="595.0" width="1" height="102.5" fill="#92d2cc"/>
<rect x="1003" y="593.5" width="1" height="104.0" fill="#92d2cc"/>
<rect x="1004" y="595.2" width="1" height="102.3" fill="#c6bdb8"/>
<rect x="1005" y="586.0" width="1" height="111.5" fill="#c6bdb8"/>
<rect x="1007" y="604.3" width="1" height="93.2" fill="#c6bdb8"/>
<rect x="1008" y="638.7" width="1" height="58.8" fill="#f7a9a7"/>
<rect x="1009" y="638.6" width="1" height="58.9" fill="#92d2cc"/>
<rect x="1010" y="642.5" width="1" height="55.0" fill="#f7a9a7"/>
<rect x="1011" y="635.7" width="1" height="61.8" fill="#92d2cc"/>
<rect x="1012" y="614.0" width="1" height="83.5" fill="#92d2cc"/>
<rect x="1013" y="626.2" width="1" height="71.3" fill="#92d2cc"/>
<rect x="1014" y="642.5" width="1" height="55.0" fill="#92d2cc"/>
<rect x="1015" y="625.8" width="1" height="71.7" fill="#f7a9a7"/>
<rect x="1016" y="625.2" width="1" height="72.3" fill="#c6bdb8"/>
<rect x="1017" y="611.3" width="1" height="86.2" fill="#f7a9a7"/>
<rect x="1018" y="617.7" width="1" height="79.8" fill="#f7a9a7"/>
<rect x="1019" y="625.2" width="1" height="72.3" fill="#c6bdb8"/>
<rect x="1020" y="525.0" width="1" height="172.5" fill="#f7a9a7"/>
<rect x="1021" y="647.5" width="1" height="50.0" fill="#92d2cc"/>
<rect x="1022" y="646.2" width="1" height="51.3" fill="#f7a9a7"/>
<rect x="1023" y="640.4" width="1" height="57.1" fill="#92d2cc"/>
<rect x="1024" y="640.1" width="1" height="57.4" fill="#92d2cc"/>
<rect x="1025" y="636.4" width="1" height="61.1" fill="#f7a9a7"/>
<rect x="1026" y="634.4" width="1" height="63.1" fill="#c6bdb8"/>
<rect x="1027" y="651.8" width="1" height="45.7" fill="#92d2cc"/>
<rect x="1028" y="655.1" width="1" height="42.4" fill="#92d2cc"/>
<rect x="1029" y="629.4" width="1" height="68.1" fill="#92d2cc"/>
<rect x="1030" y="648.3" width="1" height="49.2" fill="#f7a9a7"/>
<rect x="1031" y="642.9" width="1" height="54.6" fill="#92d2cc"/>
<rect x="1032" y="651.6" width="1" height="45.9" fill="#c6bdb8"/>
<rect x="1033" y="633.1" width="1" height="64.4" fill="#f7a9a7"/>
<rect x="1034" y="631.6" width="1" height="65.9" fill="#92d2cc"/>
<rect x="1035" y="659.1" width="1" height="38.4" fill="#92d2cc"/>
<rect x="1036" y="652.2" width="1" height="45.3" fill="#92d2cc"/>
<rect x="1037" y="641.5" width="1" height="56.0" fill="#92d2cc"/>
<rect x="1038" y="638.9" width="1" height="58.6" fill="#92d2cc"/>
<rect x="1039" y="660.3" width="1" height="37.2" fill="#f7a9a7"/>
<rect x="1040" y="646.2" width="1" height="51.3" fill="#f7a9a7"/>
<rect x="1041" y="667.0" width="1" height="30.5" fill="#f7a9a7"/>
<rect x="1042" y="664.4" width="1" height="33.1" fill="#c6bdb8"/>
<rect x="1043" y="659.7" width="1" height="37.8" fill="#f7a9a7"/>
<rect x="1044" y="657.2" width="1" height="40.3" fill="#92d2cc"/>
<rect x="1045" y="672.4" width="1" height="25.1" fill="#c6bdb8"/>
<rect x="1046" y="671.9" width="1" height="25.6" fill="#92d2cc"/>
<rect x="1047" y="663.2" width="1" height="34.3" fill="#f7a9a7"/>
<rect x="1048" y="659.0" width="1" height="38.5" fill="#92d2cc"/>
<rect x="1049" y="660.9" width="1" height="36.6" fill="#f7a9a7"/>
<rect x="1050" y="669.7" width="1" height="27.8" fill="#f7a9a7"/>
<rect x="1051" y="663.6" width="1" height="33.9" fill="#f7a9a7"/>
<rect x="1052" y="663.1" width="1" height="34.4" fill="#c6bdb8"/>
<rect x="1053" y="672.3" width="1" height="25.2" fill="#c6bdb8"/>
<rect x="1054" y="667.5" width="1" height="30.0" fill="#f7a9a7"/>
<rect x="1055" y="668.5" width="1" height="29.0" fill="#f7a9a7"/>
<rect x="1056" y="670.4" width="1" height="27.1" fill="#f7a9a7"/>
<rect x="1057" y="675.3" width="1" height="22.2" fill="#f7a9a7"/>
<rect x="1058" y="681.3" width="1" height="16.2" fill="#92d2cc"/>
<rect x="1059" y="668.4" width="1" height="29.1" fill="#f7a9a7"/>
<rect x="1060" y="671.9" width="1" height="25.6" fill="#f7a9a7"/>
<rect x="1061" y="665.4" width="1" height="32.1" fill="#c6bdb8"/>
<rect x="1062" y="655.0" width="1" height="42.5" fill="#c6bdb8"/>
<rect x="1063" y="661.2" width="1" height="36.3" fill="#f7a9a7"/>
<rect x="1064" y="667.5" width="1" height="30.0" fill="#f7a9a7"/>
<rect x="1065" y="671.8" width="1" height="25.7" fill="#c6bdb8"/>
<rect x="1066" y="670.8" width="1" height="26.7" fill="#f7a9a7"/>
<rect x="1067" y="671.0" width="1" height="26.5" fill="#f7a9a7"/>
<rect x="1068" y="679.9" width="1" height="17.6" fill="#92d2cc"/>
<rect x="1069" y="667.6" width="1" height="29.9" fill="#f7a9a7"/>
<rect x="1070" y="674.2" width="1" height="23.3" fill="#92d2cc"/>
<rect x="1071" y="680.4" width="1" height="17.1" fill="#f7a9a7"/>
<rect x="1072" y="679.4" width="1" height="18.1" fill="#c6bdb8"/>
<rect x="1073" y="672.7" width="1" height="24.8" fill="#92d2cc"/>
<rect x="1074" y="671.2" width="1" height="26.3" fill="#92d2cc"/>
<rect x="1075" y="666.5" width="1" height="31.0" fill="#92d2cc"/>
<rect x="1076" y="673.5" width="1" height="24.0" fill="#92d2cc"/>
<rect x="1077" y="664.8" width="1" height="32.7" fill="#92d2cc"/>
<rect x="1078" y="672.2" width="1" height="25.3" fill="#92d2cc"/>
<rect x="1079" y="671.8" width="1" height="25.7" fill="#f7a9a7"/>
<rect x="1080" y="659.6" width="1" height="37.9" fill="#f7a9a7"/>
<rect x="1081" y="660.6" width="1" height="36.9" fill="#92d2cc"/>
<rect x="1082" y="672.1" width="1" height="25.4" fill="#92d2cc"/>
<rect x="1083" y="671.8" width="1" height="25.7" fill="#92d2cc"/>
<rect x="1084" y="669.3" width="1" height="28.2" fill="#92d2cc"/>
<rect x="1085" y="664.5" width="1" height="33.0" fill="#f7a9a7"/>
<rect x="1086" y="673.7" width="1" height="23.8" fill="#92d2cc"/>
<rect x="1087" y="675.9" width="1" height="21.6" fill="#92d2cc"/>
<rect x="1088" y="677.0" width="1" height="20.5" fill="#92d2cc"/>
<rect x="1089" y="674.1" width="1" height="23.4" fill="#92d2cc"/>
<rect x="1090" y="670.3" width="1" height="27.2" fill="#f7a9a7"/>
<rect x="1091" y="675.0" width="1" height="22.5" fill="#f7a9a7"/>
<rect x="1092" y="665.7" width="1" height="31.8" fill="#92d2cc"/>
<rect x="1093" y="675.6" width="1" height="21.9" fill="#f7a9a7"/>
<rect x="1094" y="680.7" width="1" height="16.8" fill="#92d2cc"/>
<rect x="1095" y="692.9" width="1" height="4.6" fill="#92d2cc"/>
<rect x="1096" y="690.5" width="1" height="7.0" fill="#f7a9a7"/>
<rect x="1097" y="690.0" width="1" height="7.5" fill="#92d2cc"/>
<rect x="1098" y="692.6" width="1" height="4.9" fill="#f7a9a7"/>
<rect x="1099" y="690.2" width="1" height="7.3" fill="#92d2cc"/>
<rect x="1100" y="693.1" width="1" height="4.4" fill="#f7a9a7"/>
<rect x="1101" y="690.5" width="1" height="7.0" fill="#f7a9a7"/>
<rect x="1102" y="691.4" width="1" height="6.1" fill="#92d2cc"/>
<rect x="1103" y="689.5" width="1" height="8.0" fill="#f7a9a7"/>
<rect x="1104" y="690.7" width="1" height="6.8" fill="#92d2cc"/>
<rect x="1105" y="689.6" width="1" height="7.9" fill="#f7a9a7"/>
<rect x="1106" y="692.6" width="1" height="4.9" fill="#f7a9a7"/>
<rect x="1107" y="690.2" width="1" height="7.3" fill="#c6bdb8"/>
<rect x="1108" y="691.9" width="1" height="5.6" fill="#f7a9a7"/>
<rect x="1109" y="693.7" width="1" height="3.8" fill="#f7a9a7"/>
<rect x="1110" y="691.2" width="1" height="6.2" fill="#f7a9a7"/>
<rect x="1111" y="693.0" width="1" height="4.5" fill="#92d2cc"/>
<rect x="1112" y="694.4" width="1" height="3.1" fill="#92d2cc"/>
<rect x="1113" y="694.3" width="1" height="3.2" fill="#c6bdb8"/>
<rect x="1114" y="694.6" width="1" height="2.9" fill="#f7a9a7"/>
<rect x="1115" y="693.1" width="1" height="4.4" fill="#f7a9a7"/>
<rect x="1116" y="694.2" width="1" height="3.3" fill="#92d2cc"/>
<rect x="1117" y="693.7" width="1" height="3.8" fill="#92d2cc"/>
<rect x="1118" y="691.2" width="1" height="6.3" fill="#f7a9a7"/>
<rect x="1119" y="690.6" width="1" height="6.9" fill="#f7a9a7"/>
<rect x="1120" y="693.2" width="1" height="4.3" fill="#c6bdb8"/>
<rect x="1121" y="692.1" width="1" height="5.4" fill="#f7a9a7"/>
<rect x="1122" y="690.2" width="1" height="7.3" fill="#c6bdb8"/>
<rect x="1123" y="691.0" width="1" height="6.5" fill="#92d2cc"/>
<rect x="1124" y="688.2" width="1" height="9.3" fill="#f7a9a7"/>
<rect x="1125" y="690.2" width="1" height="7.3" fill="#92d2cc"/>
<rect x="1126" y="690.9" width="1" height="6.6" fill="#92d2cc"/>
<rect x="1127" y="687.5" width="1" height="10.0" fill="#f7a9a7"/>
<rect x="1128" y="688.8" width="1" height="8.7" fill="#f7a9a7"/>
<rect x="1129" y="687.4" width="1" height="10.1" fill="#92d2cc"/>
<rect x="1130" y="687.5" width="1" height="10.0" fill="#f7a9a7"/>
<rect x="1131" y="686.7" width="1" height="10.8" fill="#f7a9a7"/>
<rect x="1132" y="687.7" width="1" height="9.8" fill="#92d2cc"/>
<rect x="1133" y="688.8" width="1" height="8.7" fill="#c6bdb8"/>
<rect x="1134" y="684.8" width="1" height="12.8" fill="#92d2cc"/>
<rect x="1135" y="686.9" width="1" height="10.6" fill="#92d2cc"/>
<rect x="1136" y="685.0" width="1" height="12.5" fill="#92d2cc"/>
<rect x="1137" y="687.7" width="1" height="9.8" fill="#c6bdb8"/>
<rect x="1138" y="681.4" width="1" height="16.1" fill="#f7a9a7"/>
<rect x="1139" y="676.5" width="1" height="21.0" fill="#c6bdb8"/>
<rect x="1140" y="675.3" width="1" height="22.2" fill="#f7a9a7"/>
<rect x="1141" y="676.4" width="1" height="21.1" fill="#f7a9a7"/>
<rect x="1142" y="680.3" width="1" height="17.2" fill="#92d2cc"/>
<rect x="1143" y="684.6" width="1" height="12.9" fill="#c6bdb8"/>
<rect x="1144" y="683.4" width="1" height="14.1" fill="#92d2cc"/>
<rect x="1145" y="683.2" width="1" height="14.3" fill="#92d2cc"/>
<rect x="1146" y="679.3" width="1" height="18.2" fill="#92d2cc"/>
<rect x="1147" y="677.9" width="1" height="19.6" fill="#f7a9a7"/>
<rect x="1148" y="682.5" width="1" height="15.0" fill="#92d2cc"/>
<rect x="1149" y="684.7" width="1" height="12.8" fill="#f7a9a7"/>
<rect x="1150" y="682.9" width="1" height="14.6" fill="#c6bdb8"/>
<rect x="1151" y="682.4" width="1" height="15.1" fill="#f7a9a7"/>
<rect x="1152" y="684.2" width="1" height="13.3" fill="#92d2cc"/>
<rect x="1153" y="683.2" width="1" height="14.3" fill="#92d2cc"/>
<rect x="1154" y="685.9" width="1" height="11.6" fill="#c6bdb8"/>
<rect x="1155" y="682.1" width="1" height="15.4" fill="#f7a9a7"/>
<rect x="1156" y="682.7" width="1" height="14.8" fill="#c6bdb8"/>
<rect x="1157" y="685.5" width="1" height="12.0" fill="#92d2cc"/>
<rect x="1158" y="684.3" width="1" height="13.2" fill="#f7a9a7"/>
<rect x="1159" y="688.3" width="1" height="9.2" fill="#92d2cc"/>
<rect x="1160" y="685.2" width="1" height="12.3" fill="#f7a9a7"/>
<rect x="1161" y="685.5" width="1" height="12.0" fill="#92d2cc"/>
<rect x="1162" y="677.0" width="1" height="20.5" fill="#92d2cc"/>
<rect x="1163" y="682.8" width="1" height="14.7" fill="#92d2cc"/>
<rect x="1164" y="680.1" width="1" height="17.4" fill="#f7a9a7"/>
<rect x="1165" y="673.1" width="1" height="24.4" fill="#92d2cc"/>
<rect x="1166" y="675.7" width="1" height="21.8" fill="#f7a9a7"/>
<rect x="1167" y="681.1" width="1" height="16.4" fill="#c6bdb8"/>
<rect x="1168" y="684.0" width="1" height="13.5" fill="#92d2cc"/>
<rect x="1169" y="687.8" width="1" height="9.7" fill="#c6bdb8"/>
<rect x="1170" y="684.7" width="1" height="12.8" fill="#c6bdb8"/>
<rect x="1171" y="686.7" width="1" height="10.8" fill="#f7a9a7"/>
<rect x="1172" y="690.2" width="1" height="7.3" fill="#92d2cc"/>
<rect x="1173" y="687.9" width="1" height="9.6" fill="#92d2cc"/>
<rect x="1174" y="687.4" width="1" height="10.1" fill="#f7a9a7"/>
<rect x="1175" y="685.8" width="1" height="11.8" fill="#c6bdb8"/>
<rect x="1176" y="688.8" width="1" height="8.7" fill="#92d2cc"/>
<rect x="1177" y="688.9" width="1" height="8.6" fill="#f7a9a7"/>
<rect x="1178" y="689.0" width="1" height="8.5" fill="#c6bdb8"/>
<rect x="1179" y="691.5" width="1" height="6.0" fill="#92d2cc"/>
<rect x="1180" y="689.8" width="1" height="7.7" fill="#f7a9a7"/>
<rect x="1181" y="690.2" width="1" height="7.3" fill="#f7a9a7"/>
<rect x="1182" y="687.6" width="1" height="9.9" fill="#f7a9a7"/>
<rect x="1183" y="686.2" width="1" height="11.2" fill="#f7a9a7"/>
<rect x="1184" y="691.1" width="1" height="6.4" fill="#92d2cc"/>
<rect x="1185" y="685.8" width="1" height="11.8" fill="#92d2cc"/>
<rect x="1186" y="690.6" width="1" height="6.9" fill="#92d2cc"/>
<rect x="1187" y="688.1" width="1" height="9.4" fill="#f7a9a7"/>
<rect x="1188" y="686.4" width="1" height="11.1" fill="#c6bdb8"/>
<rect x="1189" y="688.2" width="1" height="9.3" fill="#f7a9a7"/>
<rect x="1190" y="689.5" width="1" height="8.0" fill="#f7a9a7"/>
<rect x="1191" y="683.4" width="1" height="14.1" fill="#92d2cc"/>
<rect x="1192" y="687.1" width="1" height="10.4" fill="#f7a9a7"/>
<rect x="1193" y="680.8" width="1" height="16.8" fill="#92d2cc"/>
<rect x="1194" y="680.6" width="1" height="16.9" fill="#c6bdb8"/>
<rect x="1195" y="679.2" width="1" height="18.3" fill="#f7a9a7"/>
<rect x="1196" y="683.9" width="1" height="13.6" fill="#92d2cc"/>
<rect x="1197" y="677.2" width="1" height="20.3" fill="#f7a9a7"/>
<rect x="1198" y="683.5" width="1" height="14.0" fill="#92d2cc"/>
<rect x="1199" y="680.1" width="1" height="17.4" fill="#92d2cc"/>
<rect x="1200" y="675.3" width="1" height="22.2" fill="#92d2cc"/>
<rect x="1201" y="674.1" width="1" height="23.4" fill="#92d2cc"/>
<rect x="1202" y="674.9" width="1" height="22.6" fill="#f7a9a7"/>
<rect x="1203" y="683.0" width="1" height="14.5" fill="#f7a9a7"/>
<rect x="1204" y="676.2" width="1" height="21.3" fill="#f7a9a7"/>
<rect x="1205" y="670.8" width="1" height="26.8" fill="#92d2cc"/>
<rect x="1206" y="679.1" width="1" height="18.4" fill="#92d2cc"/>
<rect x="1207" y="675.3" width="1" height="22.2" fill="#92d2cc"/>
<rect x="1208" y="673.4" width="1" height="24.1" fill="#92d2cc"/>
<rect x="1209" y="681.5" width="1" height="16.0" fill="#92d2cc"/>
<rect x="1210" y="680.5" width="1" height="17.0" fill="#92d2cc"/>
<rect x="1211" y="681.2" width="1" height="16.3" fill="#c6bdb8"/>
<rect x="1212" y="681.9" width="1" height="15.6" fill="#c6bdb8"/>
<rect x="1213" y="680.0" width="1" height="17.5" fill="#92d2cc"/>
<rect x="1214" y="673.6" width="1" height="23.9" fill="#f7a9a7"/>
<rect x="1215" y="675.4" width="1" height="22.1" fill="#92d2cc"/>
<rect x="1216" y="670.5" width="1" height="27.0" fill="#92d2cc"/>
<rect x="1217" y="676.2" width="1" height="21.3" fill="#92d2cc"/>
<rect x="1218" y="670.1" width="1" height="27.4" fill="#92d2cc"/>
<rect x="1219" y="671.6" width="1" height="25.9" fill="#92d2cc"/>
<rect x="1220" y="680.1" width="1" height="17.4" fill="#f7a9a7"/>
<rect x="1221" y="680.1" width="1" height="17.4" fill="#92d2cc"/>
<rect x="1222" y="677.7" width="1" height="19.8" fill="#92d2cc"/>
<rect x="1223" y="670.7" width="1" height="26.8" fill="#c6bdb8"/>
<rect x="1224" y="676.8" width="1" height="20.7" fill="#f7a9a7"/>
<rect x="1225" y="669.2" width="1" height="28.3" fill="#92d2cc"/>
<rect x="1226" y="672.2" width="1" height="25.3" fill="#92d2cc"/>
<rect x="1227" y="681.0" width="1" height="16.5" fill="#92d2cc"/>
<rect x="1228" y="678.1" width="1" height="19.4" fill="#c6bdb8"/>
<rect x="1229" y="679.7" width="1" height="17.8" fill="#92d2cc"/>
<rect x="1230" y="677.3" width="1" height="20.2" fill="#92d2cc"/>
<rect x="1231" y="671.0" width="1" height="26.5" fill="#f7a9a7"/>
<rect x="1232" y="672.6" width="1" height="24.9" fill="#c6bdb8"/>
<rect x="1233" y="680.4" width="1" height="17.1" fill="#f7a9a7"/>
<rect x="1234" y="673.0" width="1" height="24.5" fill="#92d2cc"/>
<rect x="1235" y="674.6" width="1" height="22.9" fill="#92d2cc"/>
<rect x="1236" y="675.8" width="1" height="21.7" fill="#c6bdb8"/>
<rect x="1237" y="677.5" width="1" height="20.0" fill="#92d2cc"/>
<rect x="1238" y="682.8" width="1" height="14.7" fill="#92d2cc"/>
<rect x="1239" y="683.0" width="1" height="14.5" fill="#c6bdb8"/>
<rect x="1240" y="677.3" width="1" height="20.2" fill="#f7a9a7"/>
<rect x="1241" y="684.7" width="1" height="12.8" fill="#f7a9a7"/>
<rect x="1242" y="676.7" width="1" height="20.8" fill="#f7a9a7"/>
<rect x="1243" y="681.4" width="1" height="16.1" fill="#f7a9a7"/>
<rect x="1244" y="684.2" width="1" height="13.3" fill="#f7a9a7"/>
<rect x="1245" y="678.8" width="1" height="18.7" fill="#92d2cc"/>
<rect x="1246" y="676.0" width="1" height="21.5" fill="#c6bdb8"/>
<rect x="1247" y="675.8" width="1" height="21.7" fill="#92d2cc"/>
<rect x="1248" y="681.0" width="1" height="16.5" fill="#f7a9a7"/>
<rect x="1249" y="675.5" width="1" height="22.0" fill="#c6bdb8"/>
<rect x="1250" y="675.3" width="1" height="22.2" fill="#92d2cc"/>
<rect x="1251" y="676.8" width="1" height="20.7" fill="#f7a9a7"/>
<rect x="1252" y="678.4" width="1" height="19.1" fill="#92d2cc"/>
<rect x="1253" y="678.3" width="1" height="19.2" fill="#f7a9a7"/>
<rect x="1254" y="676.3" width="1" height="21.2" fill="#92d2cc"/>
<rect x="1255" y="682.1" width="1" height="15.4" fill="#f7a9a7"/>
<rect x="1256" y="683.6" width="1" height="13.9" fill="#92d2cc"/>
<rect x="1257" y="679.3" width="1" height="18.2" fill="#f7a9a7"/>
<rect x="1258" y="683.2" width="1" height="14.3" fill="#c6bdb8"/>
<rect x="1259" y="674.5" width="1" height="23.0" fill="#f7a9a7"/>
<rect x="1260" y="682.8" width="1" height="14.7" fill="#92d2cc"/>
<rect x="1261" y="674.6" width="1" height="22.9" fill="#92d2cc"/>
<rect x="1262" y="679.3" width="1" height="18.2" fill="#92d2cc"/>
<rect x="1263" y="684.7" width="1" height="12.8" fill="#f7a9a7"/>
<rect x="1264" y="676.7" width="1" height="20.8" fill="#c6bdb8"/>
<rect x="1265" y="677.2" width="1" height="20.3" fill="#f7a9a7"/>
<rect x="1266" y="683.3" width="1" height="14.2" fill="#f7a9a7"/>
<rect x="1267" y="680.5" width="1" height="17.0" fill="#c6bdb8"/>
</g>
<line x1="7" y1="113.5" x2="1250" y2="113.5" stroke="#8a8a8f" stroke-width="1" stroke-dasharray="5,6" shape-rendering="crispEdges"/>
<line x1="660.5" y1="1" x2="660.5" y2="698" stroke="#8a8a8f" stroke-width="1" stroke-dasharray="5,6" shape-rendering="crispEdges"/>
<line x1="0" y1="480.5" x2="1280" y2="480.5" stroke="#4a4d5a" stroke-width="1" stroke-dasharray="1,2" shape-rendering="crispEdges"/>
<polyline points="0.0,145.0 1.8,150.2 3.5,155.9 5.3,161.0 7.1,161.5 8.9,159.0 10.6,163.9 12.3,169.0 14.0,174.0 16.0,166.5 17.8,168.6 19.5,170.0 21.2,167.1 23.0,166.5 24.8,170.1 26.6,173.6 28.3,174.1 30.0,173.6 31.8,191.1 33.7,205.1 35.5,223.0 37.3,251.7 39.0,251.9 40.8,253.5 43.3,287.0 44.9,274.9 46.5,266.9 48.1,255.9 49.7,244.6 51.5,248.2 53.2,255.0 55.0,257.1 56.7,257.5 58.5,256.8 60.2,257.0 62.0,257.0 63.8,262.3 65.6,268.3 67.4,276.5 69.2,282.3 71.0,286.3 72.7,292.5 74.5,298.4 76.3,305.0 78.2,296.2 80.0,290.7 82.4,305.0 84.5,294.2 86.6,283.5 88.7,273.0 90.5,284.7 92.3,294.0 94.1,289.3 95.8,284.9 97.6,279.6 99.4,274.8 101.2,278.0 103.0,280.0 104.8,290.3 106.5,301.0 108.3,306.2 110.0,314.8 111.8,319.0 113.5,317.3 115.3,313.2 117.0,308.5 118.8,308.4 120.5,306.1 122.2,304.9 124.0,305.0 125.8,298.9 127.5,292.8 129.2,289.9 131.0,283.6 132.9,290.4 134.8,299.1 136.7,305.0 138.5,300.9 140.2,299.3 142.0,294.0 143.8,277.7 145.5,258.8 147.2,244.6 149.0,234.0 151.0,231.0 153.0,230.0 154.8,240.5 156.5,247.9 158.2,258.7 160.0,266.0 161.7,254.9 163.3,244.6 166.0,251.7 168.6,209.0 170.4,192.1 172.2,178.8 174.0,163.0 175.8,145.4 177.5,125.7 179.2,131.0 181.0,138.0 182.8,118.8 184.6,102.6 186.4,94.9 188.2,90.1 190.0,81.3 191.7,98.8 193.3,113.1 195.0,131.0 196.9,131.8 198.8,134.5 202.0,111.5 203.8,110.9 205.7,111.7 207.6,115.2 209.4,115.0 211.2,113.8 213.0,115.2 214.8,115.0 218.0,141.6 220.0,136.0 221.8,135.1 223.5,134.5 225.3,137.6 227.1,143.7 228.9,147.0 230.7,139.9 232.4,136.0 234.2,128.4 236.0,124.0 237.8,129.7 239.5,136.0 241.2,131.5 243.0,129.0 244.8,135.8 246.6,146.0 248.4,152.0 250.2,155.9 252.0,157.6 253.8,154.6 255.5,153.0 257.2,148.7 259.0,141.6 260.8,140.9 262.6,141.8 264.4,143.8 266.1,143.3 267.9,141.7 269.7,143.4 271.5,148.7 273.3,147.8 275.1,142.3 276.8,139.8 278.6,138.0 280.4,144.0 282.2,147.4 284.0,153.0 285.7,149.6 287.3,146.1 289.0,145.0 290.8,135.2 292.7,128.6 294.5,120.0 296.3,118.0 298.2,118.2 300.0,116.8 302.0,124.8 304.0,133.8 306.4,124.7 308.7,116.0 310.5,123.4 312.3,127.4 314.1,138.0 315.8,148.7 317.5,154.9 319.3,161.9 321.0,166.5 323.2,172.1 325.4,180.0 327.7,166.7 330.0,155.8 331.8,162.6 333.6,166.5 335.3,165.9 337.0,163.0 338.8,166.2 340.7,170.1 342.5,175.4 344.0,170.0 345.9,164.4 347.7,158.6 349.6,150.5 351.3,152.1 353.0,155.8 354.9,162.8 356.7,166.5 358.4,174.1 360.0,179.0 361.9,171.7 363.8,163.7 365.6,169.1 367.3,175.0 369.1,174.6 371.0,177.0 372.7,178.9 374.3,185.9 376.0,187.8 377.9,191.3 379.7,196.7 381.5,212.5 383.3,226.8 385.0,212.6 386.8,200.2 388.6,189.6 390.3,198.7 392.0,205.5 393.9,178.3 395.7,150.5 397.4,151.5 399.0,154.0 400.9,166.5 402.7,182.1 404.6,195.0 406.3,182.7 408.0,173.6 409.9,183.3 411.7,195.0 413.5,188.7 415.2,183.2 417.0,175.4 418.7,174.6 420.3,172.2 422.0,171.8 423.9,180.4 425.9,186.0 427.6,181.4 429.3,177.2 431.0,175.4 432.9,178.1 434.8,182.5 436.6,194.6 438.3,207.0 440.0,196.8 441.8,198.8 443.5,204.0 445.3,189.7 447.1,206.2 448.9,225.0 450.7,213.9 452.4,203.9 454.2,193.0 455.9,198.0 457.7,205.7 459.5,218.0 461.2,206.0 463.0,195.0 464.8,211.4 466.6,225.0 467.7,271.0 470.0,269.6 471.9,291.4 473.7,309.7 475.5,285.5 477.3,282.0 479.1,272.8 480.8,262.5 482.6,265.8 484.4,267.8 486.7,261.0 489.0,253.6 491.1,265.5 493.2,280.0 495.0,283.8 496.8,290.9 498.6,283.8 500.4,282.1 502.2,285.3 504.0,283.8 505.7,271.3 507.4,283.8 510.3,269.6 512.8,285.5 514.5,285.1 516.3,284.8 518.0,282.0 519.8,280.9 521.6,283.7 523.4,283.8 525.7,273.1 528.0,262.5 530.5,276.7 532.3,282.3 534.0,285.5 535.8,290.9 537.6,288.2 539.4,282.0 541.2,280.0 543.0,281.2 544.7,281.4 546.5,280.0 548.3,286.2 550.0,290.5 551.8,294.4 553.5,296.9 555.3,299.0 557.0,299.7 558.8,298.8 560.7,294.4 562.5,292.6 564.3,292.7 566.0,292.9 567.8,290.9 569.5,291.0 571.3,288.2 573.0,287.3 574.9,282.0 576.7,283.6 578.4,284.5 580.2,283.8 582.0,287.6 583.8,290.9 585.5,286.9 587.3,282.0 589.1,292.2 590.9,303.3 593.0,311.6 595.1,319.3 598.0,296.0 599.8,301.8 601.5,306.8 603.2,297.3 605.0,290.9 606.8,294.0 608.6,296.0 610.4,294.3 612.2,290.4 614.0,285.5 615.8,289.0 617.5,290.9 619.3,284.5 621.0,279.8 622.8,273.0 624.5,272.7 626.3,271.7 628.0,271.3 629.8,274.9 631.7,274.5 633.5,278.4 635.8,271.4 638.0,262.5 640.1,268.8 642.3,278.4 644.1,277.1 645.9,275.0 647.6,284.6 649.4,294.4 651.2,299.6 653.0,306.8 655.1,305.8 657.3,303.3 660.0,322.6 661.8,306.6 664.3,304.8 666.4,315.5 668.9,313.7 670.6,319.8 672.4,326.0 674.2,365.0 676.0,375.8 677.7,368.7 679.5,384.7 681.2,386.0 683.0,386.5 684.8,395.4 686.6,400.5 688.4,402.5 690.2,409.6 692.0,418.4 693.8,404.2 695.5,393.6 698.3,416.7 700.8,409.6 702.6,427.3 704.4,414.2 706.2,402.5 709.0,397.0 710.7,389.2 712.3,379.0 714.0,371.6 715.8,377.9 717.5,386.5 720.3,400.7 723.2,393.6 725.3,412.5 727.4,428.4 729.2,416.0 731.0,402.5 732.8,406.7 734.5,411.3 737.4,406.0 740.0,359.9 742.4,372.3 745.2,354.5 747.0,308.4 748.8,305.4 750.5,299.5 753.0,312.0 755.8,336.8 758.7,317.3 761.2,331.5 763.0,319.0 764.8,329.0 766.5,340.3 768.2,341.7 770.0,342.0 772.9,339.6 774.3,363.4 775.9,363.6 777.5,365.8 779.1,368.5 780.7,368.7 782.5,381.2 784.3,388.0 786.0,393.1 787.8,397.0 789.5,393.1 791.3,390.0 793.1,399.2 795.0,407.8 796.7,402.7 798.4,398.9 800.2,403.8 802.0,411.3 803.8,425.5 805.5,426.1 807.3,427.9 809.0,427.3 810.8,429.1 812.6,429.2 814.4,429.0 816.2,422.0 818.0,423.2 819.8,420.3 821.5,419.5 823.3,420.2 825.0,423.6 826.8,427.3 828.6,422.0 830.4,418.4 832.2,424.5 834.0,432.6 835.8,424.3 837.5,416.7 840.3,446.8 842.5,442.0 844.6,436.2 846.4,438.8 848.1,441.5 849.9,447.1 851.7,454.0 854.5,450.4 857.0,464.6 858.8,465.8 860.5,466.3 862.3,464.6 864.1,468.9 865.9,473.5 867.6,475.5 869.4,480.6 871.2,488.4 873.0,500.9 874.8,509.0 877.3,489.4 880.0,478.6 881.8,473.2 883.5,476.9 885.3,484.0 887.1,484.1 888.8,482.9 890.6,482.0 893.5,469.7 896.0,484.0 897.8,486.2 899.5,490.9 901.3,492.8 903.1,492.2 904.8,493.8 906.6,496.3 908.4,498.8 910.2,501.6 912.0,494.6 913.7,491.0 915.5,479.7 917.3,466.0 919.0,458.9 920.8,453.7 922.6,456.0 924.4,460.8 926.2,476.0 928.0,494.5 929.8,479.9 931.5,464.4 933.2,462.4 935.0,460.8 936.8,465.7 938.6,469.7 940.3,469.4 942.0,468.0 943.9,475.3 945.7,480.3 947.5,494.4 949.2,505.2 951.0,496.3 952.8,523.0 955.3,508.7 958.1,515.8 959.9,500.5 961.6,483.9 963.4,471.5 965.2,461.5 967.0,453.7 968.8,459.0 970.5,464.4 973.0,494.5 975.8,505.2 977.6,517.3 979.4,531.8 981.2,520.3 983.0,512.3 984.8,510.4 986.5,508.7 988.3,519.4 990.0,508.6 991.8,496.3 993.6,510.2 995.4,526.5 997.2,512.4 999.0,499.9 1000.8,539.2 1002.5,579.7 1004.3,530.0 1006.0,536.1 1007.8,540.7 1009.5,549.6 1011.3,558.4 1013.1,554.9 1014.9,565.1 1016.7,574.4 1018.5,560.2 1020.2,544.2 1022.0,588.6 1024.8,578.0 1026.9,607.8 1029.0,638.3 1031.3,600.3 1033.7,560.2 1035.8,582.1 1038.0,601.0 1040.3,585.3 1042.6,572.6 1044.3,558.2 1046.1,540.7 1048.2,555.7 1050.4,569.0 1052.6,577.5 1054.7,588.6 1057.0,571.6 1059.3,554.9 1061.6,554.5 1063.9,553.1 1066.0,560.8 1068.1,565.5 1069.9,563.3 1071.7,562.0 1073.5,569.9 1075.2,578.7 1077.0,585.0 1078.8,579.0 1080.6,570.9 1082.4,574.3 1084.1,574.3 1085.9,576.2 1089.0,586.0 1090.0,586.0 1092.3,588.2 1094.6,583.7 1096.3,583.6 1098.0,582.5 1100.3,572.3 1102.5,560.9 1104.1,563.1 1107.1,579.1 1108.8,577.5 1110.5,578.0 1112.2,579.3 1114.0,579.1 1115.0,583.7 1117.4,576.8 1119.1,574.5 1120.8,570.0 1122.5,566.0 1124.2,560.9 1125.9,557.7 1127.6,552.9 1129.9,547.3 1132.2,543.8 1133.9,550.3 1135.6,554.0 1137.3,552.3 1139.0,547.2 1141.3,556.3 1143.6,547.2 1145.9,564.3 1147.6,561.5 1149.3,555.2 1151.0,563.3 1152.7,571.1 1154.6,566.4 1156.5,559.1 1158.4,554.0 1160.7,550.9 1163.0,544.9 1165.2,541.0 1167.5,534.6 1169.8,538.0 1171.5,535.8 1173.2,534.6 1175.0,534.8 1176.7,538.0 1179.0,538.4 1181.2,539.2 1182.9,542.2 1184.6,544.9 1186.3,543.6 1188.0,540.3 1189.9,539.9 1191.9,537.9 1193.8,539.2 1196.0,531.2 1198.3,522.6 1200.6,511.8 1202.3,517.7 1204.0,526.7 1206.3,515.8 1208.6,502.7 1210.3,511.2 1212.0,522.0 1213.7,513.5 1215.4,506.1 1217.7,499.7 1220.0,491.3 1222.3,492.5 1224.5,508.4 1226.4,500.3 1228.3,493.5 1230.2,487.9 1232.0,487.4 1233.7,486.7 1235.6,486.8 1237.5,486.5 1239.4,484.5 1241.1,475.4 1242.8,465.0 1245.0,464.4 1247.3,460.5 1249.7,469.0 1252.0,477.6 1253.9,476.2 1255.7,470.0 1257.6,468.5 1259.9,474.3 1262.2,482.2 1264.5,470.8 1266.7,479.9 1269.0,480.5 1271.3,481.0" fill="none" stroke="#2962ff" stroke-width="3.5" stroke-linejoin="round" stroke-linecap="round"/>
<circle cx="1270" cy="481" r="3" fill="#2962ff"/>

<line x1="1280" y1="698" x2="1366" y2="698" stroke="#e0e3eb" stroke-width="1" shape-rendering="crispEdges"/>
<line x1="0" y1="735.5" x2="1366" y2="735.5" stroke="#e0e3eb" stroke-width="1" shape-rendering="crispEdges"/>
<rect x="0" y="788" width="1366" height="1" fill="#dfe0e3"/>
</svg>
<div class="pl" style="top:26.1px">1748.00</div>
<div class="pl" style="top:67.8px">1744.00</div>
<div class="pl" style="top:151.0px">1736.00</div>
<div class="pl" style="top:192.7px">1732.00</div>
<div class="pl" style="top:234.3px">1728.00</div>
<div class="pl" style="top:276.0px">1724.00</div>
<div class="pl" style="top:317.6px">1720.00</div>
<div class="pl" style="top:359.3px">1716.00</div>
<div class="pl" style="top:400.9px">1712.00</div>
<div class="pl" style="top:442.5px">1708.00</div>
<div class="pl" style="top:525.8px">1700.00</div>
<div class="pl" style="top:567.5px">1696.00</div>
<div class="pl" style="top:609.1px">1692.00</div>
<div class="pl" style="top:650.8px">1688.00</div>
<!-- USD header -->
<div class="a" style="left:1280px;top:0;width:86px;height:41px;background:linear-gradient(to bottom,#fff 0px,#fff 31px,rgba(255,255,255,0.8) 32px,rgba(255,255,255,0.45) 41px)"></div>
<div class="a" style="left:0;top:0;width:1366px;height:1px;background:#dcdde0"></div>
<div class="a" style="left:1294px;top:10.2px;font-size:15.5px;line-height:15.5px">USD</div>
<svg style="left:1331px;top:15px" width="9" height="7" viewBox="0 0 9 7"><path d="M1.2 1.5 L4.5 4.6 L7.8 1.5" fill="none" stroke="#131722" stroke-width="1.6"/></svg>

<!-- header legend -->
<div class="a ttl" style="left:9px">Vàng / Đô la Mỹ</div>
<div class="dot" style="left:168.5px"></div>
<div class="a ttl" style="left:178px">5</div>
<div class="dot" style="left:196.5px"></div>
<div class="a ttl" style="left:206.5px">FX</div>
<div class="dot" style="left:243.5px"></div>
<div class="a ttl" style="left:253.5px">TradingView</div>
<div class="a" style="left:392px;top:10px;width:27px;height:24.5px;background:#daf0ec;border-radius:12.25px 0 0 12.25px"></div>
<div class="a" style="left:419px;top:10px;width:27px;height:24.5px;background:#fcd0e0;border-radius:0 12.25px 12.25px 0"></div>
<div class="a" style="left:401.8px;top:17.6px;width:10.2px;height:10.2px;border-radius:50%;background:#089981"></div>
<svg style="left:423px;top:16px" width="16" height="13" viewBox="0 0 16 13"><path d="M2.5 5 C4.5 2.6 6.5 2.8 8 4 C9.5 5.2 11.5 5.4 13.5 3 M2.5 10.2 C4.5 7.8 6.5 8 8 9.2 C9.5 10.4 11.5 10.6 13.5 8.2" fill="none" stroke="#b8174f" stroke-width="1.9"/></svg>
<div class="a" style="left:469px;top:15.2px;font-size:17.2px;line-height:17.2px;color:#3565e6">1720.04</div>
<div class="a" style="left:540px;top:15.2px;font-size:17.4px;line-height:17.4px;color:#3565e6">−0.83 (−0.05%)</div>

<div class="a" style="left:6px;top:44px;width:85px;height:32.5px;border:1px solid #c94f5a;border-radius:4px;background:#fff"></div>
<div class="a" style="left:18.7px;top:51.6px;font-size:17px;line-height:17px;color:#db4b5b">1705.08</div>
<div class="a" style="left:102.8px;top:52.6px;font-size:14.5px;line-height:14.5px;color:#6a6d78">34</div>
<div class="a" style="left:129px;top:44px;width:85px;height:32.5px;border:1px solid #4a68c9;border-radius:4px;background:#fff"></div>
<div class="a" style="left:141.4px;top:51.6px;font-size:17px;line-height:17px;color:#3d63d4">1705.42</div>

<div class="a" style="left:8.7px;top:88.7px;font-size:17.3px;line-height:17.3px;color:#131722">Khối lượng</div>
<div class="a" style="left:106.5px;top:88.7px;font-size:17.1px;line-height:17.1px;color:#e0525b">1.319K</div>

<svg style="left:0;top:640px" width="60" height="60" viewBox="0 0 60 60"><circle cx="28" cy="28" r="22" fill="#fff" stroke="#e4e5e8" stroke-width="1.2"/><path d="M13.5 21.7 H25.5 V35.7 H20.2 V26.6 H13.5 Z" fill="#131722"/><circle cx="29.8" cy="24.2" r="2.4" fill="#131722"/><path d="M35.7 21.7 H41.8 L36.9 35.7 H30.4 Z" fill="#131722"/></svg>
<!-- price labels -->
<div class="a" style="left:1250px;top:99px;width:29px;height:29px;background:#131722;border-radius:3px 0 0 3px"></div>
<svg style="left:1250px;top:99px" width="29" height="29" viewBox="0 0 29 29"><circle cx="14.4" cy="14.5" r="9.4" fill="none" stroke="#e8e8ea" stroke-width="1.2"/><path d="M14.4 9 V20 M8.9 14.5 H19.9" stroke="#fff" stroke-width="1.3"/></svg>
<div class="a" style="left:1280px;top:99px;width:80px;height:29px;background:#131722;border-radius:0 3px 3px 0"></div>
<div class="a" style="left:1295px;top:106.7px;font-size:15.3px;line-height:15.3px;font-weight:bold;color:#fff">1740.33</div>

<div class="a" style="left:1280px;top:469px;width:80px;height:42px;background:#2962ff;border-radius:0 3px 3px 0"></div>
<div class="a" style="left:1295px;top:473.6px;font-size:15.3px;line-height:15.3px;font-weight:bold;color:#fff">1705.03</div>
<div class="a" style="left:1294.2px;top:492.5px;font-size:15.3px;line-height:15.3px;font-weight:bold;color:#d4e0ff">01:50</div>

<div class="a" style="left:1280px;top:669px;width:47px;height:23px;background:#ef5350;border-radius:0 3px 3px 0"></div>
<div class="a" style="left:1294px;top:674px;font-size:15px;line-height:15px;font-weight:bold;color:#fff">668</div>

<!-- time axis -->
<div class="tl" style="left:-40px">9</div>
<div class="tl" style="left:77px">15:00</div>
<div class="tl" style="left:184px">30</div>
<div class="tl" style="left:317px">12:00</div>
<div class="tl" style="left:461px">31</div>
<div class="tl" style="left:871px">12:00</div>
<div class="tl" style="left:1015px">2</div>
<div class="tl" style="left:1148.5px">12:00</div>
<div class="a" style="left:750px;top:709.5px;font-size:15px;line-height:15px;font-weight:bold;color:#131722">Tháng 9</div>
<div class="a" style="left:557px;top:697.7px;width:205px;height:32.3px;background:#131722;border-radius:0 0 3px 3px"></div>
<div class="a" style="left:569.2px;top:709.8px;font-size:15px;line-height:15px;font-weight:bold;color:#fff">31 Tháng Tám '22</div>
<div class="a" style="left:710.9px;top:709.8px;font-size:15.2px;line-height:15.2px;font-weight:bold;color:#fff">14:10</div>
<svg style="left:1310px;top:704px" width="26" height="26" viewBox="0 0 26 26"><circle cx="13" cy="12.8" r="6.7" fill="none" stroke="#131722" stroke-width="1.6"/><g stroke="#131722" stroke-width="1.6"><path d="M13 3 V5.8 M13 19.8 V22.6 M3.2 12.8 H6 M20 12.8 H22.8 M6.1 5.9 L8 7.8 M18 17.8 L19.9 19.7 M6.1 19.7 L8 17.8 M18 7.8 L19.9 5.9"/></g></svg>

<!-- bottom toolbar -->
<div class="tb" style="left:18.5px">1 Ngày</div>
<div class="tb" style="left:96.5px;color:#3565e6">5 Ngày</div>
<div class="a" style="left:97.4px;top:777px;width:57px;height:3px;background:#2962ff;border-radius:1px"></div>
<div class="tb" style="left:176px">1 Tháng</div>
<div class="tb" style="left:263.5px">3 Tháng</div>
<div class="tb" style="left:351px">6 tháng</div>
<div class="tb" style="left:433px">YTD</div>
<div class="tb" style="left:490px">1 Năm</div>
<div class="tb" style="left:564px">5 Năm</div>
<div class="tb" style="left:639px">Tất cả</div>
<div class="a" style="left:713px;top:746px;width:1px;height:31px;background:#e0e3eb"></div>
<svg style="left:730px;top:749px" width="34" height="28" viewBox="0 0 34 28"><g fill="none" stroke="#131722" stroke-width="1.55" stroke-linecap="round" stroke-linejoin="round"><path d="M7 12 V7.5 Q7 5 9.5 5 H25.5 Q28 5 28 7.5 V19.8 Q28 22.4 25.5 22.4 H18"/><path d="M7 10.3 H28"/><path d="M12.5 3 V7 M22.5 3 V7"/><path d="M5 18.6 H15.5 M11 14 L15.6 18.6 L11 23.2"/></g></svg>
<div class="tb" style="left:1009.8px">18:43:10 (UTC+7)</div>
<div class="a" style="left:1181.5px;top:748px;width:1px;height:28px;background:#e0e3eb"></div>
<div class="tb" style="left:1205px">%</div>
<div class="tb" style="left:1242.7px">log</div>
<div class="tb" style="left:1286.7px;color:#3565e6">tự động</div>
</body></html>
